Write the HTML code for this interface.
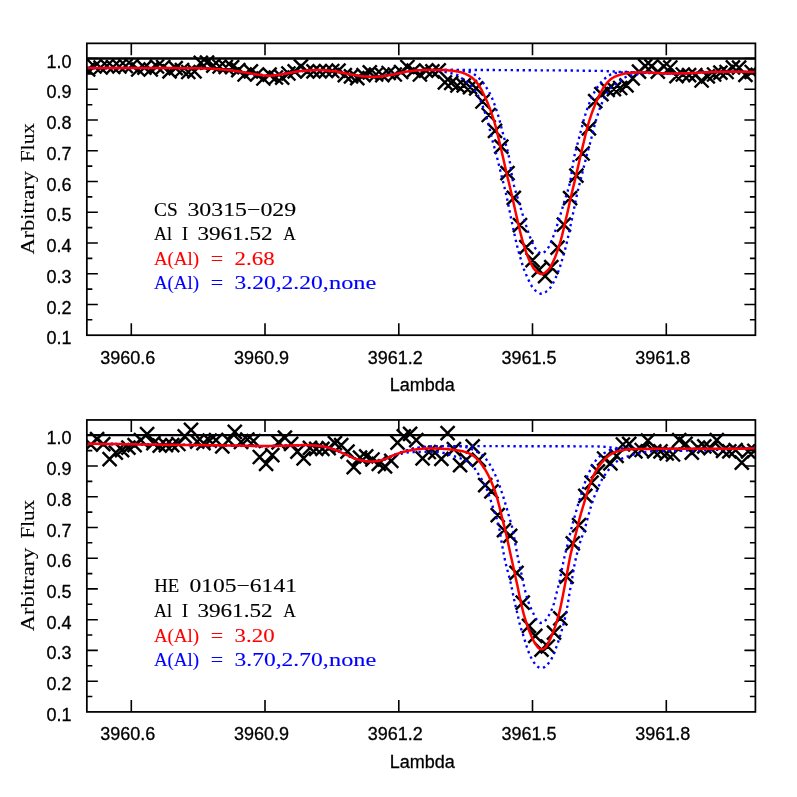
<!DOCTYPE html>
<html><head><meta charset="utf-8"><title>Al I 3961.52 synthesis</title>
<style>
html,body{margin:0;padding:0;background:#fff}
body{width:797px;height:797px;overflow:hidden}
svg{display:block;will-change:transform}
.sans{font-family:"Liberation Sans",sans-serif;font-size:18px;fill:#000;stroke:#000;stroke-width:0.3px}
.serif{font-family:"Liberation Serif",serif;font-size:19.5px;stroke-width:0.12px}
</style></head><body>
<svg width="797" height="797" viewBox="0 0 797 797">
<rect width="797" height="797" fill="#fff"/>
<clipPath id="clip1"><rect x="86.85" y="43.35" width="668.55" height="291.84999999999997"/></clipPath>
<g clip-path="url(#clip1)">
<path d="M86.85,58.5H755.4" stroke="#000" stroke-width="2.3" fill="none"/>
<path d="M81.1,62.5l14,14M81.1,76.5l14,-14M87.4,59.5l14,14M87.4,73.5l14,-14M93.6,60.5l14,14M93.6,74.5l14,-14M99.9,59.0l14,14M99.9,73.0l14,-14M106.1,60.0l14,14M106.1,74.0l14,-14M112.4,59.5l14,14M112.4,73.5l14,-14M118.7,59.0l14,14M118.7,73.0l14,-14M124.9,58.5l14,14M124.9,72.5l14,-14M131.2,62.5l14,14M131.2,76.5l14,-14M137.4,60.6l14,14M137.4,74.6l14,-14M143.7,62.5l14,14M143.7,76.5l14,-14M150.0,59.5l14,14M150.0,73.5l14,-14M156.2,60.0l14,14M156.2,74.0l14,-14M162.5,64.3l14,14M162.5,78.3l14,-14M168.7,61.2l14,14M168.7,75.2l14,-14M175.0,63.0l14,14M175.0,77.0l14,-14M181.3,65.0l14,14M181.3,79.0l14,-14M187.5,64.3l14,14M187.5,78.3l14,-14M193.8,55.9l14,14M193.8,69.9l14,-14M200.0,55.6l14,14M200.0,69.6l14,-14M206.3,58.7l14,14M206.3,72.7l14,-14M212.6,59.5l14,14M212.6,73.5l14,-14M218.8,60.0l14,14M218.8,74.0l14,-14M225.1,60.2l14,14M225.1,74.2l14,-14M231.3,63.1l14,14M231.3,77.1l14,-14M237.6,67.5l14,14M237.6,81.5l14,-14M243.9,64.3l14,14M243.9,78.3l14,-14M250.1,67.5l14,14M250.1,81.5l14,-14M256.4,71.5l14,14M256.4,85.5l14,-14M262.6,67.7l14,14M262.6,81.7l14,-14M268.9,70.5l14,14M268.9,84.5l14,-14M275.2,70.6l14,14M275.2,84.6l14,-14M281.4,66.5l14,14M281.4,80.5l14,-14M287.7,64.3l14,14M287.7,78.3l14,-14M293.9,59.3l14,14M293.9,73.3l14,-14M300.2,64.3l14,14M300.2,78.3l14,-14M306.5,64.3l14,14M306.5,78.3l14,-14M312.7,64.3l14,14M312.7,78.3l14,-14M319.0,64.0l14,14M319.0,78.0l14,-14M325.2,64.0l14,14M325.2,78.0l14,-14M331.5,63.7l14,14M331.5,77.7l14,-14M337.8,68.1l14,14M337.8,82.1l14,-14M344.0,69.4l14,14M344.0,83.4l14,-14M350.3,71.2l14,14M350.3,85.2l14,-14M356.5,68.1l14,14M356.5,82.1l14,-14M362.8,65.3l14,14M362.8,79.3l14,-14M369.1,67.5l14,14M369.1,81.5l14,-14M375.3,68.1l14,14M375.3,82.1l14,-14M381.6,66.0l14,14M381.6,80.0l14,-14M387.8,67.5l14,14M387.8,81.5l14,-14M394.1,65.0l14,14M394.1,79.0l14,-14M400.4,60.0l14,14M400.4,74.0l14,-14M406.6,63.7l14,14M406.6,77.7l14,-14M412.9,67.5l14,14M412.9,81.5l14,-14M419.1,63.7l14,14M419.1,77.7l14,-14M425.4,64.3l14,14M425.4,78.3l14,-14M431.7,63.3l14,14M431.7,77.3l14,-14M437.9,75.4l14,14M437.9,89.4l14,-14M444.2,75.9l14,14M444.2,89.9l14,-14M450.4,78.5l14,14M450.4,92.5l14,-14M456.7,78.4l14,14M456.7,92.4l14,-14M463.0,80.1l14,14M463.0,94.1l14,-14M469.2,81.3l14,14M469.2,95.3l14,-14M475.5,94.5l14,14M475.5,108.5l14,-14M481.7,108.0l14,14M481.7,122.0l14,-14M488.0,123.8l14,14M488.0,137.8l14,-14M494.3,139.6l14,14M494.3,153.6l14,-14M500.5,166.1l14,14M500.5,180.1l14,-14M506.8,190.9l14,14M506.8,204.9l14,-14M513.0,218.2l14,14M513.0,232.2l14,-14M519.3,240.1l14,14M519.3,254.1l14,-14M525.6,253.1l14,14M525.6,267.1l14,-14M531.8,263.2l14,14M531.8,277.2l14,-14M538.1,269.2l14,14M538.1,283.2l14,-14M544.3,260.1l14,14M544.3,274.1l14,-14M550.6,240.6l14,14M550.6,254.6l14,-14M556.9,217.6l14,14M556.9,231.6l14,-14M563.1,191.2l14,14M563.1,205.2l14,-14M569.4,168.6l14,14M569.4,182.6l14,-14M575.6,146.5l14,14M575.6,160.5l14,-14M581.9,121.3l14,14M581.9,135.3l14,-14M588.2,94.2l14,14M588.2,108.2l14,-14M594.4,87.2l14,14M594.4,101.2l14,-14M600.7,82.9l14,14M600.7,96.9l14,-14M606.9,82.2l14,14M606.9,96.2l14,-14M613.2,81.0l14,14M613.2,95.0l14,-14M619.5,78.4l14,14M619.5,92.4l14,-14M625.7,71.4l14,14M625.7,85.4l14,-14M632.0,64.6l14,14M632.0,78.6l14,-14M638.2,59.1l14,14M638.2,73.1l14,-14M644.5,59.3l14,14M644.5,73.3l14,-14M650.8,64.6l14,14M650.8,78.6l14,-14M657.0,59.5l14,14M657.0,73.5l14,-14M663.3,60.5l14,14M663.3,74.5l14,-14M669.5,69.1l14,14M669.5,83.1l14,-14M675.8,67.5l14,14M675.8,81.5l14,-14M682.1,68.1l14,14M682.1,82.1l14,-14M688.3,68.1l14,14M688.3,82.1l14,-14M694.6,73.5l14,14M694.6,87.5l14,-14M700.8,69.4l14,14M700.8,83.4l14,-14M707.1,67.5l14,14M707.1,81.5l14,-14M713.4,65.6l14,14M713.4,79.6l14,-14M719.6,65.0l14,14M719.6,79.0l14,-14M725.9,60.3l14,14M725.9,74.3l14,-14M732.1,60.6l14,14M732.1,74.6l14,-14M738.4,67.9l14,14M738.4,81.9l14,-14M744.7,65.0l14,14M744.7,79.0l14,-14" stroke="#000" stroke-width="2.45" fill="none"/>
<path d="M86.8,68.0 L87.8,68.0 L88.8,68.0 L89.8,68.0 L90.8,68.0 L91.8,68.0 L92.8,68.0 L93.8,68.0 L94.8,68.0 L95.8,68.0 L96.8,68.0 L97.8,68.0 L98.8,68.0 L99.8,68.0 L100.8,68.0 L101.8,68.0 L102.8,68.0 L103.8,68.0 L104.8,68.0 L105.8,68.0 L106.8,68.0 L107.8,68.0 L108.8,68.0 L109.8,68.0 L110.8,68.0 L111.8,68.0 L112.8,68.0 L113.8,68.0 L114.8,68.0 L115.8,68.0 L116.8,68.0 L117.8,68.0 L118.8,68.0 L119.8,68.0 L120.8,68.0 L121.8,68.0 L122.8,68.0 L123.8,68.0 L124.8,68.0 L125.8,68.0 L126.8,68.0 L127.8,68.0 L128.8,68.0 L129.8,68.0 L130.8,68.0 L131.8,68.0 L132.8,68.0 L133.8,68.0 L134.8,68.0 L135.8,68.0 L136.8,68.0 L137.8,68.0 L138.8,68.0 L139.8,68.0 L140.8,68.0 L141.8,68.0 L142.8,68.0 L143.8,68.0 L144.8,68.0 L145.8,68.0 L146.8,68.0 L147.8,68.0 L148.8,68.0 L149.8,68.0 L150.8,68.0 L151.8,68.1 L152.8,68.1 L153.8,68.1 L154.8,68.1 L155.8,68.1 L156.8,68.1 L157.8,68.1 L158.8,68.1 L159.8,68.1 L160.8,68.1 L161.8,68.1 L162.8,68.1 L163.8,68.1 L164.8,68.1 L165.8,68.1 L166.8,68.1 L167.8,68.1 L168.8,68.1 L169.8,68.1 L170.8,68.1 L171.8,68.1 L172.8,68.1 L173.8,68.1 L174.8,68.1 L175.8,68.1 L176.8,68.1 L177.8,68.2 L178.8,68.2 L179.8,68.2 L180.8,68.2 L181.8,68.2 L182.8,68.2 L183.8,68.2 L184.8,68.2 L185.8,68.2 L186.8,68.2 L187.8,68.2 L188.8,68.2 L189.8,68.2 L190.8,68.2 L191.8,68.2 L192.8,68.3 L193.8,68.3 L194.8,68.3 L195.8,68.3 L196.8,68.3 L197.8,68.3 L198.8,68.3 L199.8,68.3 L200.8,68.3 L201.8,68.4 L202.8,68.4 L203.8,68.4 L204.8,68.4 L205.8,68.4 L206.8,68.4 L207.8,68.5 L208.8,68.5 L209.8,68.6 L210.8,68.6 L211.8,68.7 L212.8,68.7 L213.8,68.8 L214.8,68.9 L215.8,68.9 L216.8,69.0 L217.8,69.1 L218.8,69.2 L219.8,69.3 L220.8,69.3 L221.8,69.4 L222.8,69.5 L223.8,69.6 L224.8,69.7 L225.8,69.8 L226.8,69.9 L227.8,70.0 L228.8,70.1 L229.8,70.2 L230.8,70.3 L231.8,70.5 L232.8,70.6 L233.8,70.7 L234.8,70.9 L235.8,71.0 L236.8,71.2 L237.8,71.3 L238.8,71.5 L239.8,71.6 L240.8,71.8 L241.8,71.9 L242.8,72.1 L243.8,72.2 L244.8,72.4 L245.8,72.5 L246.8,72.7 L247.8,72.9 L248.8,73.1 L249.8,73.3 L250.8,73.5 L251.8,73.7 L252.8,73.8 L253.8,74.0 L254.8,74.2 L255.8,74.3 L256.9,74.5 L257.9,74.6 L258.9,74.7 L259.9,74.9 L260.9,75.0 L261.9,75.1 L262.9,75.3 L263.9,75.4 L264.9,75.5 L265.9,75.6 L266.9,75.6 L267.9,75.7 L268.9,75.7 L269.9,75.7 L270.9,75.7 L271.9,75.6 L272.9,75.5 L273.9,75.4 L274.9,75.3 L275.9,75.2 L276.9,75.0 L277.9,74.9 L278.9,74.7 L279.9,74.5 L280.9,74.4 L281.9,74.2 L282.9,74.0 L283.9,73.9 L284.9,73.7 L285.9,73.6 L286.9,73.4 L287.9,73.2 L288.9,73.1 L289.9,72.9 L290.9,72.7 L291.9,72.5 L292.9,72.3 L293.9,72.1 L294.9,72.0 L295.9,71.8 L296.9,71.6 L297.9,71.5 L298.9,71.3 L299.9,71.2 L300.9,71.1 L301.9,71.0 L302.9,70.9 L303.9,70.8 L304.9,70.8 L305.9,70.7 L306.9,70.6 L307.9,70.5 L308.9,70.4 L309.9,70.4 L310.9,70.3 L311.9,70.2 L312.9,70.2 L313.9,70.2 L314.9,70.1 L315.9,70.1 L316.9,70.1 L317.9,70.1 L318.9,70.1 L319.9,70.1 L320.9,70.2 L321.9,70.2 L322.9,70.3 L323.9,70.3 L324.9,70.4 L325.9,70.5 L326.9,70.6 L327.9,70.6 L328.9,70.7 L329.9,70.8 L330.9,70.9 L331.9,71.0 L332.9,71.1 L333.9,71.2 L334.9,71.3 L335.9,71.5 L336.9,71.6 L337.9,71.8 L338.9,72.0 L339.9,72.2 L340.9,72.4 L341.9,72.6 L342.9,72.9 L343.9,73.1 L344.9,73.3 L345.9,73.5 L346.9,73.7 L347.9,73.9 L348.9,74.1 L349.9,74.2 L350.9,74.4 L351.9,74.6 L352.9,74.8 L353.9,75.0 L354.9,75.1 L355.9,75.3 L356.9,75.5 L357.9,75.6 L358.9,75.8 L359.9,75.9 L360.9,76.1 L361.9,76.2 L362.9,76.3 L363.9,76.4 L364.9,76.5 L365.9,76.6 L366.9,76.6 L367.9,76.7 L368.9,76.8 L369.9,76.8 L370.9,76.8 L371.9,76.9 L372.9,76.9 L373.9,76.9 L374.9,76.9 L375.9,76.8 L376.9,76.8 L377.9,76.7 L378.9,76.6 L379.9,76.5 L380.9,76.4 L381.9,76.3 L382.9,76.2 L383.9,76.0 L384.9,75.9 L385.9,75.7 L386.9,75.6 L387.9,75.4 L388.9,75.3 L389.9,75.1 L390.9,75.0 L391.9,74.8 L392.9,74.6 L393.9,74.4 L394.9,74.2 L395.9,73.9 L396.9,73.7 L397.9,73.4 L398.9,73.2 L399.9,73.0 L400.9,72.7 L401.9,72.5 L402.9,72.3 L403.9,72.1 L404.9,71.9 L405.9,71.8 L406.9,71.6 L407.9,71.5 L408.9,71.3 L409.9,71.2 L410.9,71.0 L411.9,70.9 L412.9,70.8 L413.9,70.7 L414.9,70.6 L415.9,70.5 L416.9,70.4 L417.9,70.3 L418.9,70.3 L419.9,70.2 L420.9,70.2 L421.9,70.1 L422.9,70.1 L423.9,70.0 L424.9,70.0 L425.9,69.9 L426.9,69.9 L427.9,69.9 L428.9,69.9 L429.9,69.9 L430.9,69.9 L431.9,69.9 L432.9,69.9 L433.9,69.9 L434.9,69.9 L435.9,69.9 L436.9,69.9 L437.9,70.0 L438.9,70.0 L439.9,70.0 L440.9,70.0 L441.9,70.0 L442.9,70.0 L443.9,70.0 L444.9,70.0 L445.9,70.0 L446.9,70.0 L447.9,70.0 L448.9,70.0 L449.9,70.0 L450.9,70.0 L451.9,70.0 L452.9,70.0 L453.9,70.0 L454.9,70.0 L455.9,70.0 L456.9,70.0 L457.9,70.0 L458.9,70.0 L459.9,70.0 L460.9,70.0 L461.9,70.0 L462.9,70.0 L463.9,70.0 L464.9,70.0 L465.9,70.0 L466.9,70.0 L467.9,70.0 L468.9,70.0 L469.9,70.0 L470.9,70.0 L471.9,70.0 L472.9,70.0 L473.9,70.0 L474.9,70.0 L475.9,70.0 L476.9,70.0 L477.9,70.0 L478.9,70.0 L479.9,70.0 L480.9,70.0 L481.9,70.0 L482.9,70.0 L483.9,70.0 L484.9,70.0 L485.9,70.0 L486.9,70.0 L487.9,70.0 L488.9,70.0 L489.9,70.0 L490.9,70.0 L491.9,70.0 L492.9,70.0 L493.9,70.0 L494.9,70.1 L495.9,70.1 L496.9,70.1 L497.9,70.1 L498.9,70.1 L499.9,70.1 L500.9,70.1 L501.9,70.1 L502.9,70.1 L503.9,70.1 L504.9,70.1 L505.9,70.1 L506.9,70.1 L507.9,70.1 L508.9,70.1 L509.9,70.1 L510.9,70.1 L511.9,70.1 L512.9,70.1 L513.9,70.1 L514.9,70.1 L515.9,70.2 L516.9,70.2 L517.9,70.2 L518.9,70.2 L519.9,70.2 L520.9,70.2 L521.9,70.2 L522.9,70.2 L523.9,70.2 L524.9,70.2 L525.9,70.2 L526.9,70.2 L527.9,70.2 L528.9,70.2 L529.9,70.2 L530.9,70.2 L531.9,70.3 L532.9,70.3 L533.9,70.3 L534.9,70.3 L535.9,70.3 L536.9,70.3 L537.9,70.3 L538.9,70.3 L539.9,70.3 L540.9,70.3 L541.9,70.3 L542.9,70.3 L543.9,70.3 L544.9,70.3 L545.9,70.3 L546.9,70.3 L547.9,70.3 L548.9,70.4 L549.9,70.4 L550.9,70.4 L551.9,70.4 L552.9,70.4 L553.9,70.4 L554.9,70.4 L555.9,70.4 L556.9,70.4 L557.9,70.4 L558.9,70.4 L559.9,70.4 L560.9,70.4 L561.9,70.4 L562.9,70.5 L563.9,70.5 L564.9,70.5 L565.9,70.5 L566.9,70.5 L567.9,70.5 L568.9,70.5 L569.9,70.5 L570.9,70.5 L571.9,70.5 L572.9,70.5 L573.9,70.5 L574.9,70.6 L575.9,70.6 L576.9,70.6 L577.9,70.6 L578.9,70.6 L579.9,70.6 L580.9,70.6 L581.9,70.6 L582.9,70.6 L583.9,70.7 L584.9,70.7 L585.9,70.7 L586.9,70.7 L587.9,70.7 L588.9,70.7 L589.9,70.7 L590.9,70.8 L591.9,70.8 L592.9,70.8 L593.9,70.8 L594.9,70.8 L595.9,70.8 L596.9,70.8 L597.9,70.9 L598.9,70.9 L599.9,70.9 L600.9,70.9 L601.9,70.9 L602.9,71.0 L603.9,71.0 L604.9,71.0 L605.9,71.1 L606.9,71.1 L607.9,71.2 L608.9,71.2 L609.9,71.3 L610.9,71.3 L611.9,71.4 L612.9,71.4 L613.9,71.5 L614.9,71.6 L615.9,71.6 L616.9,71.7 L617.9,71.7 L618.9,71.8 L619.9,71.8 L620.9,71.9 L621.9,71.9 L622.9,71.9 L623.9,72.0 L624.9,72.0 L625.9,72.0 L626.9,72.0 L627.9,72.1 L628.9,72.1 L629.9,72.1 L630.9,72.1 L631.9,72.1 L632.9,72.2 L633.9,72.2 L634.9,72.2 L635.9,72.2 L636.9,72.2 L637.9,72.3 L638.9,72.3 L639.9,72.3 L640.9,72.3 L641.9,72.3 L642.9,72.4 L643.9,72.4 L644.9,72.4 L645.9,72.4 L646.9,72.5 L647.9,72.5 L648.9,72.5 L649.9,72.6 L650.9,72.6 L651.9,72.7 L652.9,72.8 L653.9,72.8 L654.9,72.9 L655.9,73.0 L656.9,73.0 L657.9,73.1 L658.9,73.1 L659.9,73.2 L660.9,73.2 L661.9,73.3 L662.9,73.3 L663.9,73.4 L664.9,73.4 L665.9,73.4 L666.9,73.5 L667.9,73.5 L668.9,73.5 L669.9,73.5 L670.9,73.5 L671.9,73.5 L672.9,73.5 L673.9,73.5 L674.9,73.5 L675.9,73.5 L676.9,73.4 L677.9,73.4 L678.9,73.4 L679.9,73.4 L680.9,73.4 L681.9,73.3 L682.9,73.3 L683.9,73.3 L684.9,73.3 L685.9,73.2 L686.9,73.2 L687.9,73.2 L688.9,73.1 L689.9,73.1 L690.9,73.1 L691.9,73.1 L692.9,73.0 L693.9,73.0 L694.9,72.9 L695.9,72.9 L696.9,72.8 L697.9,72.8 L698.9,72.7 L699.9,72.6 L700.9,72.6 L701.9,72.5 L702.9,72.5 L703.9,72.4 L704.9,72.3 L705.9,72.3 L706.9,72.2 L707.9,72.2 L708.9,72.2 L709.9,72.1 L710.9,72.1 L711.9,72.1 L712.9,72.0 L713.9,72.0 L714.9,72.0 L715.9,71.9 L716.9,71.9 L717.9,71.9 L718.9,71.9 L719.9,71.8 L720.9,71.8 L721.9,71.8 L722.9,71.8 L723.9,71.8 L724.9,71.7 L725.9,71.7 L726.9,71.7 L727.9,71.7 L728.9,71.7 L729.9,71.7 L730.9,71.7 L731.9,71.7 L732.9,71.7 L733.9,71.7 L734.9,71.7 L735.9,71.7 L736.9,71.7 L737.9,71.7 L738.9,71.7 L739.9,71.7 L740.9,71.8 L741.9,71.8 L742.9,71.8 L743.9,71.8 L744.9,71.8 L745.9,71.8 L746.9,71.9 L747.9,71.9 L748.9,71.9 L749.9,71.9 L750.9,72.0 L751.9,72.0 L752.9,72.0 L753.9,72.0 L754.9,72.1" stroke="#00f" stroke-width="2.35" stroke-dasharray="2.35 3.65" fill="none"/>
<path d="M86.8,68.0 L87.8,68.0 L88.8,68.0 L89.8,68.0 L90.8,68.0 L91.8,68.0 L92.8,68.0 L93.8,68.0 L94.8,68.0 L95.8,68.0 L96.8,68.0 L97.8,68.0 L98.8,68.0 L99.8,68.0 L100.8,68.0 L101.8,68.0 L102.8,68.0 L103.8,68.0 L104.8,68.0 L105.8,68.0 L106.8,68.0 L107.8,68.0 L108.8,68.0 L109.8,68.0 L110.8,68.0 L111.8,68.0 L112.8,68.0 L113.8,68.0 L114.8,68.0 L115.8,68.0 L116.8,68.0 L117.8,68.0 L118.8,68.0 L119.8,68.0 L120.8,68.0 L121.8,68.0 L122.8,68.0 L123.8,68.0 L124.8,68.0 L125.8,68.0 L126.8,68.0 L127.8,68.0 L128.8,68.0 L129.8,68.0 L130.8,68.0 L131.8,68.0 L132.8,68.0 L133.8,68.0 L134.8,68.0 L135.8,68.0 L136.8,68.0 L137.8,68.0 L138.8,68.0 L139.8,68.0 L140.8,68.0 L141.8,68.0 L142.8,68.0 L143.8,68.0 L144.8,68.0 L145.8,68.0 L146.8,68.0 L147.8,68.0 L148.8,68.0 L149.8,68.0 L150.8,68.0 L151.8,68.1 L152.8,68.1 L153.8,68.1 L154.8,68.1 L155.8,68.1 L156.8,68.1 L157.8,68.1 L158.8,68.1 L159.8,68.1 L160.8,68.1 L161.8,68.1 L162.8,68.1 L163.8,68.1 L164.8,68.1 L165.8,68.1 L166.8,68.1 L167.8,68.1 L168.8,68.1 L169.8,68.1 L170.8,68.1 L171.8,68.1 L172.8,68.1 L173.8,68.1 L174.8,68.1 L175.8,68.1 L176.8,68.1 L177.8,68.2 L178.8,68.2 L179.8,68.2 L180.8,68.2 L181.8,68.2 L182.8,68.2 L183.8,68.2 L184.8,68.2 L185.8,68.2 L186.8,68.2 L187.8,68.2 L188.8,68.2 L189.8,68.2 L190.8,68.2 L191.8,68.2 L192.8,68.3 L193.8,68.3 L194.8,68.3 L195.8,68.3 L196.8,68.3 L197.8,68.3 L198.8,68.3 L199.8,68.3 L200.8,68.3 L201.8,68.4 L202.8,68.4 L203.8,68.4 L204.8,68.4 L205.8,68.4 L206.8,68.4 L207.8,68.5 L208.8,68.5 L209.8,68.6 L210.8,68.6 L211.8,68.7 L212.8,68.7 L213.8,68.8 L214.8,68.9 L215.8,68.9 L216.8,69.0 L217.8,69.1 L218.8,69.2 L219.8,69.3 L220.8,69.3 L221.8,69.4 L222.8,69.5 L223.8,69.6 L224.8,69.7 L225.8,69.8 L226.8,69.9 L227.8,70.0 L228.8,70.1 L229.8,70.2 L230.8,70.3 L231.8,70.5 L232.8,70.6 L233.8,70.7 L234.8,70.9 L235.8,71.0 L236.8,71.2 L237.8,71.3 L238.8,71.5 L239.8,71.6 L240.8,71.8 L241.8,71.9 L242.8,72.1 L243.8,72.2 L244.8,72.4 L245.8,72.5 L246.8,72.7 L247.8,72.9 L248.8,73.1 L249.8,73.3 L250.8,73.5 L251.8,73.7 L252.8,73.8 L253.8,74.0 L254.8,74.2 L255.8,74.3 L256.9,74.5 L257.9,74.6 L258.9,74.7 L259.9,74.9 L260.9,75.0 L261.9,75.1 L262.9,75.3 L263.9,75.4 L264.9,75.5 L265.9,75.6 L266.9,75.6 L267.9,75.7 L268.9,75.7 L269.9,75.7 L270.9,75.7 L271.9,75.6 L272.9,75.5 L273.9,75.4 L274.9,75.3 L275.9,75.2 L276.9,75.0 L277.9,74.9 L278.9,74.7 L279.9,74.5 L280.9,74.4 L281.9,74.2 L282.9,74.0 L283.9,73.9 L284.9,73.7 L285.9,73.6 L286.9,73.4 L287.9,73.2 L288.9,73.1 L289.9,72.9 L290.9,72.7 L291.9,72.5 L292.9,72.3 L293.9,72.1 L294.9,72.0 L295.9,71.8 L296.9,71.6 L297.9,71.5 L298.9,71.3 L299.9,71.2 L300.9,71.1 L301.9,71.0 L302.9,70.9 L303.9,70.8 L304.9,70.8 L305.9,70.7 L306.9,70.6 L307.9,70.5 L308.9,70.4 L309.9,70.4 L310.9,70.3 L311.9,70.2 L312.9,70.2 L313.9,70.2 L314.9,70.1 L315.9,70.1 L316.9,70.1 L317.9,70.1 L318.9,70.1 L319.9,70.1 L320.9,70.2 L321.9,70.2 L322.9,70.3 L323.9,70.3 L324.9,70.4 L325.9,70.5 L326.9,70.6 L327.9,70.6 L328.9,70.7 L329.9,70.8 L330.9,70.9 L331.9,71.0 L332.9,71.1 L333.9,71.2 L334.9,71.3 L335.9,71.5 L336.9,71.6 L337.9,71.8 L338.9,72.0 L339.9,72.2 L340.9,72.4 L341.9,72.6 L342.9,72.9 L343.9,73.1 L344.9,73.3 L345.9,73.5 L346.9,73.7 L347.9,73.9 L348.9,74.1 L349.9,74.2 L350.9,74.4 L351.9,74.6 L352.9,74.8 L353.9,75.0 L354.9,75.1 L355.9,75.3 L356.9,75.5 L357.9,75.6 L358.9,75.8 L359.9,75.9 L360.9,76.1 L361.9,76.2 L362.9,76.3 L363.9,76.4 L364.9,76.5 L365.9,76.6 L366.9,76.6 L367.9,76.7 L368.9,76.8 L369.9,76.8 L370.9,76.8 L371.9,76.9 L372.9,76.9 L373.9,76.9 L374.9,76.9 L375.9,76.8 L376.9,76.8 L377.9,76.7 L378.9,76.6 L379.9,76.5 L380.9,76.4 L381.9,76.3 L382.9,76.2 L383.9,76.0 L384.9,75.9 L385.9,75.7 L386.9,75.6 L387.9,75.4 L388.9,75.3 L389.9,75.1 L390.9,75.0 L391.9,74.8 L392.9,74.6 L393.9,74.4 L394.9,74.2 L395.9,73.9 L396.9,73.7 L397.9,73.4 L398.9,73.2 L399.9,73.0 L400.9,72.7 L401.9,72.5 L402.9,72.3 L403.9,72.1 L404.9,71.9 L405.9,71.8 L406.9,71.6 L407.9,71.5 L408.9,71.3 L409.9,71.2 L410.9,71.0 L411.9,70.9 L412.9,70.8 L413.9,70.7 L414.9,70.6 L415.9,70.5 L416.9,70.4 L417.9,70.3 L418.9,70.3 L419.9,70.2 L420.9,70.2 L421.9,70.1 L422.9,70.1 L423.9,70.0 L424.9,70.0 L425.9,69.9 L426.9,69.9 L427.9,70.0 L428.9,70.0 L429.9,70.1 L430.9,70.1 L431.9,70.2 L432.9,70.3 L433.9,70.4 L434.9,70.5 L435.9,70.6 L436.9,70.7 L437.9,70.8 L438.9,70.9 L439.9,71.1 L440.9,71.2 L441.9,71.4 L442.9,71.6 L443.9,71.8 L444.9,71.9 L445.9,72.1 L446.9,72.3 L447.9,72.5 L448.9,72.7 L449.9,72.9 L450.9,73.1 L451.9,73.3 L452.9,73.6 L453.9,73.9 L454.9,74.1 L455.9,74.5 L456.9,74.9 L457.9,75.4 L458.9,76.0 L459.9,76.7 L460.9,77.5 L461.9,78.3 L462.9,79.1 L463.9,79.9 L464.9,80.7 L465.9,81.5 L466.9,82.2 L467.9,83.0 L468.9,83.7 L469.9,84.6 L470.9,85.5 L471.9,86.4 L472.9,87.5 L473.9,88.8 L474.9,90.2 L475.9,91.8 L476.9,93.5 L477.9,95.3 L478.9,97.2 L479.9,99.4 L480.9,101.6 L481.9,104.1 L482.9,106.6 L483.9,109.4 L484.9,112.4 L485.9,115.6 L486.9,118.9 L487.9,122.4 L488.9,126.0 L489.9,130.0 L490.9,134.2 L491.9,138.3 L492.9,142.2 L493.9,145.8 L494.9,149.4 L495.9,153.0 L496.9,156.8 L497.9,160.9 L498.9,165.0 L499.9,169.1 L500.9,173.1 L501.9,177.1 L502.9,181.0 L503.9,185.0 L504.9,189.1 L505.9,193.3 L506.9,197.8 L507.9,202.6 L508.9,207.5 L509.9,212.5 L510.9,217.5 L511.9,222.3 L512.9,227.0 L513.9,231.7 L514.9,236.3 L515.9,240.8 L516.9,245.1 L517.9,249.0 L518.9,252.7 L519.9,256.1 L520.9,259.5 L521.9,262.9 L522.9,266.2 L523.9,269.1 L524.9,271.7 L525.9,274.1 L526.9,276.4 L527.9,278.7 L528.9,280.8 L529.9,282.8 L530.9,284.8 L531.9,286.4 L532.9,287.8 L533.9,289.1 L534.9,290.1 L535.9,290.9 L536.9,291.6 L537.9,292.3 L538.9,292.9 L539.9,293.4 L540.9,293.7 L541.9,293.7 L542.9,293.5 L543.9,293.1 L544.9,292.5 L545.9,291.9 L546.9,291.1 L547.9,290.4 L548.9,289.4 L549.9,288.2 L550.9,286.9 L551.9,285.3 L552.9,283.5 L553.9,281.5 L554.9,279.4 L555.9,277.2 L556.9,274.9 L557.9,272.5 L558.9,270.0 L559.9,267.2 L560.9,264.0 L561.9,260.6 L562.9,257.2 L563.9,253.8 L564.9,250.3 L565.9,246.4 L566.9,242.2 L567.9,237.8 L568.9,233.2 L569.9,228.6 L570.9,223.9 L571.9,219.2 L572.9,214.2 L573.9,209.3 L574.9,204.3 L575.9,199.5 L576.9,194.9 L577.9,190.6 L578.9,186.5 L579.9,182.5 L580.9,178.6 L581.9,174.7 L582.9,170.7 L583.9,166.6 L584.9,162.5 L585.9,158.5 L586.9,154.6 L587.9,150.9 L588.9,147.4 L589.9,143.8 L590.9,140.0 L591.9,136.0 L592.9,131.8 L593.9,127.8 L594.9,124.1 L595.9,120.6 L596.9,117.3 L597.9,114.1 L598.9,111.0 L599.9,108.2 L600.9,105.6 L601.9,103.2 L602.9,100.9 L603.9,98.8 L604.9,96.8 L605.9,95.0 L606.9,93.3 L607.9,91.8 L608.9,90.4 L609.9,89.1 L610.9,88.0 L611.9,87.1 L612.9,86.2 L613.9,85.4 L614.9,84.7 L615.9,84.0 L616.9,83.3 L617.9,82.6 L618.9,81.9 L619.9,81.1 L620.9,80.3 L621.9,79.6 L622.9,78.8 L623.9,78.1 L624.9,77.5 L625.9,77.0 L626.9,76.6 L627.9,76.3 L628.9,76.0 L629.9,75.7 L630.9,75.5 L631.9,75.3 L632.9,75.1 L633.9,74.9 L634.9,74.7 L635.9,74.6 L636.9,74.4 L637.9,74.2 L638.9,74.1 L639.9,73.9 L640.9,73.8 L641.9,73.6 L642.9,73.5 L643.9,73.4 L644.9,73.3 L645.9,73.2 L646.9,73.1 L647.9,73.1 L648.9,73.0 L649.9,73.0 L650.9,73.0 L651.9,72.9 L652.9,72.9 L653.9,73.0 L654.9,73.0 L655.9,73.0 L656.9,73.0 L657.9,73.1 L658.9,73.1 L659.9,73.2 L660.9,73.2 L661.9,73.3 L662.9,73.3 L663.9,73.4 L664.9,73.4 L665.9,73.4 L666.9,73.5 L667.9,73.5 L668.9,73.5 L669.9,73.5 L670.9,73.5 L671.9,73.5 L672.9,73.5 L673.9,73.5 L674.9,73.5 L675.9,73.5 L676.9,73.4 L677.9,73.4 L678.9,73.4 L679.9,73.4 L680.9,73.4 L681.9,73.3 L682.9,73.3 L683.9,73.3 L684.9,73.3 L685.9,73.2 L686.9,73.2 L687.9,73.2 L688.9,73.1 L689.9,73.1 L690.9,73.1 L691.9,73.1 L692.9,73.0 L693.9,73.0 L694.9,72.9 L695.9,72.9 L696.9,72.8 L697.9,72.8 L698.9,72.7 L699.9,72.6 L700.9,72.6 L701.9,72.5 L702.9,72.5 L703.9,72.4 L704.9,72.3 L705.9,72.3 L706.9,72.2 L707.9,72.2 L708.9,72.2 L709.9,72.1 L710.9,72.1 L711.9,72.1 L712.9,72.0 L713.9,72.0 L714.9,72.0 L715.9,71.9 L716.9,71.9 L717.9,71.9 L718.9,71.9 L719.9,71.8 L720.9,71.8 L721.9,71.8 L722.9,71.8 L723.9,71.8 L724.9,71.7 L725.9,71.7 L726.9,71.7 L727.9,71.7 L728.9,71.7 L729.9,71.7 L730.9,71.7 L731.9,71.7 L732.9,71.7 L733.9,71.7 L734.9,71.7 L735.9,71.7 L736.9,71.7 L737.9,71.7 L738.9,71.7 L739.9,71.7 L740.9,71.8 L741.9,71.8 L742.9,71.8 L743.9,71.8 L744.9,71.8 L745.9,71.8 L746.9,71.9 L747.9,71.9 L748.9,71.9 L749.9,71.9 L750.9,72.0 L751.9,72.0 L752.9,72.0 L753.9,72.0 L754.9,72.1" stroke="#00f" stroke-width="2.35" stroke-dasharray="2.35 3.65" fill="none"/>
<path d="M86.8,68.0 L87.8,68.0 L88.8,68.0 L89.8,68.0 L90.8,68.0 L91.8,68.0 L92.8,68.0 L93.8,68.0 L94.8,68.0 L95.8,68.0 L96.8,68.0 L97.8,68.0 L98.8,68.0 L99.8,68.0 L100.8,68.0 L101.8,68.0 L102.8,68.0 L103.8,68.0 L104.8,68.0 L105.8,68.0 L106.8,68.0 L107.8,68.0 L108.8,68.0 L109.8,68.0 L110.8,68.0 L111.8,68.0 L112.8,68.0 L113.8,68.0 L114.8,68.0 L115.8,68.0 L116.8,68.0 L117.8,68.0 L118.8,68.0 L119.8,68.0 L120.8,68.0 L121.8,68.0 L122.8,68.0 L123.8,68.0 L124.8,68.0 L125.8,68.0 L126.8,68.0 L127.8,68.0 L128.8,68.0 L129.8,68.0 L130.8,68.0 L131.8,68.0 L132.8,68.0 L133.8,68.0 L134.8,68.0 L135.8,68.0 L136.8,68.0 L137.8,68.0 L138.8,68.0 L139.8,68.0 L140.8,68.0 L141.8,68.0 L142.8,68.0 L143.8,68.0 L144.8,68.0 L145.8,68.0 L146.8,68.0 L147.8,68.0 L148.8,68.0 L149.8,68.0 L150.8,68.0 L151.8,68.1 L152.8,68.1 L153.8,68.1 L154.8,68.1 L155.8,68.1 L156.8,68.1 L157.8,68.1 L158.8,68.1 L159.8,68.1 L160.8,68.1 L161.8,68.1 L162.8,68.1 L163.8,68.1 L164.8,68.1 L165.8,68.1 L166.8,68.1 L167.8,68.1 L168.8,68.1 L169.8,68.1 L170.8,68.1 L171.8,68.1 L172.8,68.1 L173.8,68.1 L174.8,68.1 L175.8,68.1 L176.8,68.1 L177.8,68.2 L178.8,68.2 L179.8,68.2 L180.8,68.2 L181.8,68.2 L182.8,68.2 L183.8,68.2 L184.8,68.2 L185.8,68.2 L186.8,68.2 L187.8,68.2 L188.8,68.2 L189.8,68.2 L190.8,68.2 L191.8,68.2 L192.8,68.3 L193.8,68.3 L194.8,68.3 L195.8,68.3 L196.8,68.3 L197.8,68.3 L198.8,68.3 L199.8,68.3 L200.8,68.3 L201.8,68.4 L202.8,68.4 L203.8,68.4 L204.8,68.4 L205.8,68.4 L206.8,68.4 L207.8,68.5 L208.8,68.5 L209.8,68.6 L210.8,68.6 L211.8,68.7 L212.8,68.7 L213.8,68.8 L214.8,68.9 L215.8,68.9 L216.8,69.0 L217.8,69.1 L218.8,69.2 L219.8,69.3 L220.8,69.3 L221.8,69.4 L222.8,69.5 L223.8,69.6 L224.8,69.7 L225.8,69.8 L226.8,69.9 L227.8,70.0 L228.8,70.1 L229.8,70.2 L230.8,70.3 L231.8,70.5 L232.8,70.6 L233.8,70.7 L234.8,70.9 L235.8,71.0 L236.8,71.2 L237.8,71.3 L238.8,71.5 L239.8,71.6 L240.8,71.8 L241.8,71.9 L242.8,72.1 L243.8,72.2 L244.8,72.4 L245.8,72.5 L246.8,72.7 L247.8,72.9 L248.8,73.1 L249.8,73.3 L250.8,73.5 L251.8,73.7 L252.8,73.8 L253.8,74.0 L254.8,74.2 L255.8,74.3 L256.9,74.5 L257.9,74.6 L258.9,74.7 L259.9,74.9 L260.9,75.0 L261.9,75.1 L262.9,75.3 L263.9,75.4 L264.9,75.5 L265.9,75.6 L266.9,75.6 L267.9,75.7 L268.9,75.7 L269.9,75.7 L270.9,75.7 L271.9,75.6 L272.9,75.5 L273.9,75.4 L274.9,75.3 L275.9,75.2 L276.9,75.0 L277.9,74.9 L278.9,74.7 L279.9,74.5 L280.9,74.4 L281.9,74.2 L282.9,74.0 L283.9,73.9 L284.9,73.7 L285.9,73.6 L286.9,73.4 L287.9,73.2 L288.9,73.1 L289.9,72.9 L290.9,72.7 L291.9,72.5 L292.9,72.3 L293.9,72.1 L294.9,72.0 L295.9,71.8 L296.9,71.6 L297.9,71.5 L298.9,71.3 L299.9,71.2 L300.9,71.1 L301.9,71.0 L302.9,70.9 L303.9,70.8 L304.9,70.8 L305.9,70.7 L306.9,70.6 L307.9,70.5 L308.9,70.4 L309.9,70.4 L310.9,70.3 L311.9,70.2 L312.9,70.2 L313.9,70.2 L314.9,70.1 L315.9,70.1 L316.9,70.1 L317.9,70.1 L318.9,70.1 L319.9,70.1 L320.9,70.2 L321.9,70.2 L322.9,70.3 L323.9,70.3 L324.9,70.4 L325.9,70.5 L326.9,70.6 L327.9,70.6 L328.9,70.7 L329.9,70.8 L330.9,70.9 L331.9,71.0 L332.9,71.1 L333.9,71.2 L334.9,71.3 L335.9,71.5 L336.9,71.6 L337.9,71.8 L338.9,72.0 L339.9,72.2 L340.9,72.4 L341.9,72.6 L342.9,72.9 L343.9,73.1 L344.9,73.3 L345.9,73.5 L346.9,73.7 L347.9,73.9 L348.9,74.1 L349.9,74.2 L350.9,74.4 L351.9,74.6 L352.9,74.8 L353.9,75.0 L354.9,75.1 L355.9,75.3 L356.9,75.5 L357.9,75.6 L358.9,75.8 L359.9,75.9 L360.9,76.1 L361.9,76.2 L362.9,76.3 L363.9,76.4 L364.9,76.5 L365.9,76.6 L366.9,76.6 L367.9,76.7 L368.9,76.8 L369.9,76.8 L370.9,76.8 L371.9,76.9 L372.9,76.9 L373.9,76.9 L374.9,76.9 L375.9,76.8 L376.9,76.8 L377.9,76.7 L378.9,76.6 L379.9,76.5 L380.9,76.4 L381.9,76.3 L382.9,76.2 L383.9,76.0 L384.9,75.9 L385.9,75.7 L386.9,75.6 L387.9,75.4 L388.9,75.3 L389.9,75.1 L390.9,75.0 L391.9,74.8 L392.9,74.6 L393.9,74.4 L394.9,74.2 L395.9,73.9 L396.9,73.7 L397.9,73.4 L398.9,73.2 L399.9,73.0 L400.9,72.7 L401.9,72.5 L402.9,72.3 L403.9,72.1 L404.9,71.9 L405.9,71.8 L406.9,71.6 L407.9,71.5 L408.9,71.3 L409.9,71.2 L410.9,71.0 L411.9,70.9 L412.9,70.8 L413.9,70.7 L414.9,70.6 L415.9,70.5 L416.9,70.4 L417.9,70.3 L418.9,70.3 L419.9,70.2 L420.9,70.2 L421.9,70.1 L422.9,70.1 L423.9,70.0 L424.9,70.0 L425.9,69.9 L426.9,69.9 L427.9,69.9 L428.9,69.9 L429.9,69.9 L430.9,69.9 L431.9,69.9 L432.9,69.9 L433.9,69.9 L434.9,69.9 L435.9,69.9 L436.9,69.9 L437.9,70.0 L438.9,70.0 L439.9,70.0 L440.9,70.0 L441.9,70.0 L442.9,70.0 L443.9,70.0 L444.9,70.0 L445.9,70.0 L446.9,70.0 L447.9,70.0 L448.9,70.0 L449.9,70.0 L450.9,70.0 L451.9,70.0 L452.9,70.0 L453.9,70.0 L454.9,70.1 L455.9,70.1 L456.9,70.2 L457.9,70.2 L458.9,70.3 L459.9,70.4 L460.9,70.4 L461.9,70.5 L462.9,70.6 L463.9,70.8 L464.9,70.9 L465.9,71.1 L466.9,71.3 L467.9,71.6 L468.9,71.8 L469.9,72.1 L470.9,72.4 L471.9,72.9 L472.9,73.4 L473.9,74.1 L474.9,74.8 L475.9,75.6 L476.9,76.4 L477.9,77.2 L478.9,78.1 L479.9,79.1 L480.9,80.1 L481.9,81.2 L482.9,82.5 L483.9,83.8 L484.9,85.3 L485.9,86.8 L486.9,88.3 L487.9,90.0 L488.9,91.7 L489.9,93.6 L490.9,95.6 L491.9,97.8 L492.9,100.2 L493.9,102.9 L494.9,105.6 L495.9,108.4 L496.9,111.4 L497.9,114.5 L498.9,117.8 L499.9,121.6 L500.9,125.6 L501.9,129.5 L502.9,133.2 L503.9,137.0 L504.9,140.8 L505.9,144.6 L506.9,148.3 L507.9,152.1 L508.9,156.6 L509.9,162.3 L510.9,168.9 L511.9,175.5 L512.9,181.0 L513.9,185.3 L514.9,189.0 L515.9,192.4 L516.9,195.6 L517.9,198.7 L518.9,201.9 L519.9,205.2 L520.9,208.6 L521.9,212.0 L522.9,215.3 L523.9,218.6 L524.9,221.9 L525.9,225.0 L526.9,228.0 L527.9,231.1 L528.9,234.0 L529.9,236.8 L530.9,239.2 L531.9,241.6 L532.9,243.9 L533.9,246.0 L534.9,247.7 L535.9,249.1 L536.9,250.2 L537.9,251.3 L538.9,252.3 L539.9,253.0 L540.9,253.4 L541.9,253.5 L542.9,253.2 L543.9,252.5 L544.9,251.6 L545.9,250.6 L546.9,249.5 L547.9,248.2 L548.9,246.6 L549.9,244.6 L550.9,242.4 L551.9,240.0 L552.9,237.6 L553.9,234.9 L554.9,232.0 L555.9,229.0 L556.9,226.0 L557.9,222.9 L558.9,219.7 L559.9,216.4 L560.9,213.1 L561.9,209.8 L562.9,206.4 L563.9,203.0 L564.9,199.8 L565.9,196.7 L566.9,193.6 L567.9,190.3 L568.9,186.7 L569.9,182.6 L570.9,177.6 L571.9,171.2 L572.9,164.5 L573.9,158.4 L574.9,153.7 L575.9,149.7 L576.9,146.0 L577.9,142.3 L578.9,138.5 L579.9,134.8 L580.9,131.0 L581.9,127.2 L582.9,123.2 L583.9,119.4 L584.9,116.0 L585.9,112.8 L586.9,109.8 L587.9,107.0 L588.9,104.3 L589.9,101.6 L590.9,99.1 L591.9,96.9 L592.9,94.8 L593.9,93.0 L594.9,91.2 L595.9,89.6 L596.9,88.0 L597.9,86.5 L598.9,85.1 L599.9,83.7 L600.9,82.5 L601.9,81.3 L602.9,80.3 L603.9,79.4 L604.9,78.5 L605.9,77.7 L606.9,77.0 L607.9,76.2 L608.9,75.5 L609.9,74.9 L610.9,74.3 L611.9,73.9 L612.9,73.6 L613.9,73.4 L614.9,73.2 L615.9,73.0 L616.9,72.8 L617.9,72.7 L618.9,72.6 L619.9,72.5 L620.9,72.4 L621.9,72.4 L622.9,72.3 L623.9,72.3 L624.9,72.2 L625.9,72.2 L626.9,72.2 L627.9,72.1 L628.9,72.1 L629.9,72.1 L630.9,72.1 L631.9,72.1 L632.9,72.2 L633.9,72.2 L634.9,72.2 L635.9,72.2 L636.9,72.2 L637.9,72.3 L638.9,72.3 L639.9,72.3 L640.9,72.3 L641.9,72.3 L642.9,72.4 L643.9,72.4 L644.9,72.4 L645.9,72.4 L646.9,72.5 L647.9,72.5 L648.9,72.5 L649.9,72.6 L650.9,72.6 L651.9,72.7 L652.9,72.8 L653.9,72.8 L654.9,72.9 L655.9,73.0 L656.9,73.0 L657.9,73.1 L658.9,73.1 L659.9,73.2 L660.9,73.2 L661.9,73.3 L662.9,73.3 L663.9,73.4 L664.9,73.4 L665.9,73.4 L666.9,73.5 L667.9,73.5 L668.9,73.5 L669.9,73.5 L670.9,73.5 L671.9,73.5 L672.9,73.5 L673.9,73.5 L674.9,73.5 L675.9,73.5 L676.9,73.4 L677.9,73.4 L678.9,73.4 L679.9,73.4 L680.9,73.4 L681.9,73.3 L682.9,73.3 L683.9,73.3 L684.9,73.3 L685.9,73.2 L686.9,73.2 L687.9,73.2 L688.9,73.1 L689.9,73.1 L690.9,73.1 L691.9,73.1 L692.9,73.0 L693.9,73.0 L694.9,72.9 L695.9,72.9 L696.9,72.8 L697.9,72.8 L698.9,72.7 L699.9,72.6 L700.9,72.6 L701.9,72.5 L702.9,72.5 L703.9,72.4 L704.9,72.3 L705.9,72.3 L706.9,72.2 L707.9,72.2 L708.9,72.2 L709.9,72.1 L710.9,72.1 L711.9,72.1 L712.9,72.0 L713.9,72.0 L714.9,72.0 L715.9,71.9 L716.9,71.9 L717.9,71.9 L718.9,71.9 L719.9,71.8 L720.9,71.8 L721.9,71.8 L722.9,71.8 L723.9,71.8 L724.9,71.7 L725.9,71.7 L726.9,71.7 L727.9,71.7 L728.9,71.7 L729.9,71.7 L730.9,71.7 L731.9,71.7 L732.9,71.7 L733.9,71.7 L734.9,71.7 L735.9,71.7 L736.9,71.7 L737.9,71.7 L738.9,71.7 L739.9,71.7 L740.9,71.8 L741.9,71.8 L742.9,71.8 L743.9,71.8 L744.9,71.8 L745.9,71.8 L746.9,71.9 L747.9,71.9 L748.9,71.9 L749.9,71.9 L750.9,72.0 L751.9,72.0 L752.9,72.0 L753.9,72.0 L754.9,72.1" stroke="#00f" stroke-width="2.35" stroke-dasharray="2.35 3.65" fill="none"/>
<path d="M86.8,68.0 L87.8,68.0 L88.8,68.0 L89.8,68.0 L90.8,68.0 L91.8,68.0 L92.8,68.0 L93.8,68.0 L94.8,68.0 L95.8,68.0 L96.8,68.0 L97.8,68.0 L98.8,68.0 L99.8,68.0 L100.8,68.0 L101.8,68.0 L102.8,68.0 L103.8,68.0 L104.8,68.0 L105.8,68.0 L106.8,68.0 L107.8,68.0 L108.8,68.0 L109.8,68.0 L110.8,68.0 L111.8,68.0 L112.8,68.0 L113.8,68.0 L114.8,68.0 L115.8,68.0 L116.8,68.0 L117.8,68.0 L118.8,68.0 L119.8,68.0 L120.8,68.0 L121.8,68.0 L122.8,68.0 L123.8,68.0 L124.8,68.0 L125.8,68.0 L126.8,68.0 L127.8,68.0 L128.8,68.0 L129.8,68.0 L130.8,68.0 L131.8,68.0 L132.8,68.0 L133.8,68.0 L134.8,68.0 L135.8,68.0 L136.8,68.0 L137.8,68.0 L138.8,68.0 L139.8,68.0 L140.8,68.0 L141.8,68.0 L142.8,68.0 L143.8,68.0 L144.8,68.0 L145.8,68.0 L146.8,68.0 L147.8,68.0 L148.8,68.0 L149.8,68.0 L150.8,68.0 L151.8,68.1 L152.8,68.1 L153.8,68.1 L154.8,68.1 L155.8,68.1 L156.8,68.1 L157.8,68.1 L158.8,68.1 L159.8,68.1 L160.8,68.1 L161.8,68.1 L162.8,68.1 L163.8,68.1 L164.8,68.1 L165.8,68.1 L166.8,68.1 L167.8,68.1 L168.8,68.1 L169.8,68.1 L170.8,68.1 L171.8,68.1 L172.8,68.1 L173.8,68.1 L174.8,68.1 L175.8,68.1 L176.8,68.1 L177.8,68.2 L178.8,68.2 L179.8,68.2 L180.8,68.2 L181.8,68.2 L182.8,68.2 L183.8,68.2 L184.8,68.2 L185.8,68.2 L186.8,68.2 L187.8,68.2 L188.8,68.2 L189.8,68.2 L190.8,68.2 L191.8,68.2 L192.8,68.3 L193.8,68.3 L194.8,68.3 L195.8,68.3 L196.8,68.3 L197.8,68.3 L198.8,68.3 L199.8,68.3 L200.8,68.3 L201.8,68.4 L202.8,68.4 L203.8,68.4 L204.8,68.4 L205.8,68.4 L206.8,68.4 L207.8,68.5 L208.8,68.5 L209.8,68.6 L210.8,68.6 L211.8,68.7 L212.8,68.7 L213.8,68.8 L214.8,68.9 L215.8,68.9 L216.8,69.0 L217.8,69.1 L218.8,69.2 L219.8,69.3 L220.8,69.3 L221.8,69.4 L222.8,69.5 L223.8,69.6 L224.8,69.7 L225.8,69.8 L226.8,69.9 L227.8,70.0 L228.8,70.1 L229.8,70.2 L230.8,70.3 L231.8,70.5 L232.8,70.6 L233.8,70.7 L234.8,70.9 L235.8,71.0 L236.8,71.2 L237.8,71.3 L238.8,71.5 L239.8,71.6 L240.8,71.8 L241.8,71.9 L242.8,72.1 L243.8,72.2 L244.8,72.4 L245.8,72.5 L246.8,72.7 L247.8,72.9 L248.8,73.1 L249.8,73.3 L250.8,73.5 L251.8,73.7 L252.8,73.8 L253.8,74.0 L254.8,74.2 L255.8,74.3 L256.9,74.5 L257.9,74.6 L258.9,74.7 L259.9,74.9 L260.9,75.0 L261.9,75.1 L262.9,75.3 L263.9,75.4 L264.9,75.5 L265.9,75.6 L266.9,75.6 L267.9,75.7 L268.9,75.7 L269.9,75.7 L270.9,75.7 L271.9,75.6 L272.9,75.5 L273.9,75.4 L274.9,75.3 L275.9,75.2 L276.9,75.0 L277.9,74.9 L278.9,74.7 L279.9,74.5 L280.9,74.4 L281.9,74.2 L282.9,74.0 L283.9,73.9 L284.9,73.7 L285.9,73.6 L286.9,73.4 L287.9,73.2 L288.9,73.1 L289.9,72.9 L290.9,72.7 L291.9,72.5 L292.9,72.3 L293.9,72.1 L294.9,72.0 L295.9,71.8 L296.9,71.6 L297.9,71.5 L298.9,71.3 L299.9,71.2 L300.9,71.1 L301.9,71.0 L302.9,70.9 L303.9,70.8 L304.9,70.8 L305.9,70.7 L306.9,70.6 L307.9,70.5 L308.9,70.4 L309.9,70.4 L310.9,70.3 L311.9,70.2 L312.9,70.2 L313.9,70.2 L314.9,70.1 L315.9,70.1 L316.9,70.1 L317.9,70.1 L318.9,70.1 L319.9,70.1 L320.9,70.2 L321.9,70.2 L322.9,70.3 L323.9,70.3 L324.9,70.4 L325.9,70.5 L326.9,70.6 L327.9,70.6 L328.9,70.7 L329.9,70.8 L330.9,70.9 L331.9,71.0 L332.9,71.1 L333.9,71.2 L334.9,71.3 L335.9,71.5 L336.9,71.6 L337.9,71.8 L338.9,72.0 L339.9,72.2 L340.9,72.4 L341.9,72.6 L342.9,72.9 L343.9,73.1 L344.9,73.3 L345.9,73.5 L346.9,73.7 L347.9,73.9 L348.9,74.1 L349.9,74.2 L350.9,74.4 L351.9,74.6 L352.9,74.8 L353.9,75.0 L354.9,75.1 L355.9,75.3 L356.9,75.5 L357.9,75.6 L358.9,75.8 L359.9,75.9 L360.9,76.1 L361.9,76.2 L362.9,76.3 L363.9,76.4 L364.9,76.5 L365.9,76.6 L366.9,76.6 L367.9,76.7 L368.9,76.8 L369.9,76.8 L370.9,76.8 L371.9,76.9 L372.9,76.9 L373.9,76.9 L374.9,76.9 L375.9,76.8 L376.9,76.8 L377.9,76.7 L378.9,76.6 L379.9,76.5 L380.9,76.4 L381.9,76.3 L382.9,76.2 L383.9,76.0 L384.9,75.9 L385.9,75.7 L386.9,75.6 L387.9,75.4 L388.9,75.3 L389.9,75.1 L390.9,75.0 L391.9,74.8 L392.9,74.6 L393.9,74.4 L394.9,74.2 L395.9,73.9 L396.9,73.7 L397.9,73.4 L398.9,73.2 L399.9,73.0 L400.9,72.7 L401.9,72.5 L402.9,72.3 L403.9,72.1 L404.9,71.9 L405.9,71.8 L406.9,71.6 L407.9,71.5 L408.9,71.3 L409.9,71.2 L410.9,71.0 L411.9,70.9 L412.9,70.8 L413.9,70.7 L414.9,70.6 L415.9,70.5 L416.9,70.4 L417.9,70.3 L418.9,70.3 L419.9,70.2 L420.9,70.2 L421.9,70.1 L422.9,70.1 L423.9,70.0 L424.9,70.0 L425.9,69.9 L426.9,69.9 L427.9,69.9 L428.9,69.9 L429.9,69.9 L430.9,69.9 L431.9,69.9 L432.9,69.9 L433.9,69.9 L434.9,69.9 L435.9,69.9 L436.9,69.9 L437.9,70.0 L438.9,70.0 L439.9,70.0 L440.9,70.0 L441.9,70.0 L442.9,70.0 L443.9,70.0 L444.9,70.1 L445.9,70.2 L446.9,70.2 L447.9,70.3 L448.9,70.4 L449.9,70.5 L450.9,70.5 L451.9,70.6 L452.9,70.7 L453.9,70.9 L454.9,71.0 L455.9,71.2 L456.9,71.4 L457.9,71.5 L458.9,71.8 L459.9,72.0 L460.9,72.2 L461.9,72.6 L462.9,72.9 L463.9,73.3 L464.9,73.7 L465.9,74.1 L466.9,74.6 L467.9,75.1 L468.9,75.6 L469.9,76.2 L470.9,76.9 L471.9,77.6 L472.9,78.4 L473.9,79.4 L474.9,80.4 L475.9,81.6 L476.9,82.8 L477.9,84.1 L478.9,85.5 L479.9,87.1 L480.9,88.8 L481.9,90.7 L482.9,92.7 L483.9,94.7 L484.9,96.8 L485.9,99.0 L486.9,101.2 L487.9,103.6 L488.9,106.1 L489.9,108.7 L490.9,111.4 L491.9,114.3 L492.9,117.3 L493.9,120.5 L494.9,123.8 L495.9,127.4 L496.9,131.3 L497.9,135.5 L498.9,139.7 L499.9,143.9 L500.9,148.2 L501.9,152.5 L502.9,156.9 L503.9,161.3 L504.9,165.7 L505.9,170.2 L506.9,174.5 L507.9,178.7 L508.9,182.8 L509.9,187.0 L510.9,191.2 L511.9,195.5 L512.9,200.0 L513.9,204.5 L514.9,209.0 L515.9,213.5 L516.9,217.9 L517.9,222.2 L518.9,226.4 L519.9,230.7 L520.9,234.8 L521.9,238.6 L522.9,242.2 L523.9,245.4 L524.9,248.5 L525.9,251.5 L526.9,254.3 L527.9,256.9 L528.9,259.2 L529.9,261.4 L530.9,263.5 L531.9,265.4 L532.9,267.2 L533.9,268.7 L534.9,269.9 L535.9,270.8 L536.9,271.7 L537.9,272.6 L538.9,273.2 L539.9,273.8 L540.9,274.1 L541.9,274.1 L542.9,273.9 L543.9,273.4 L544.9,272.8 L545.9,272.0 L546.9,271.1 L547.9,270.2 L548.9,269.1 L549.9,267.7 L550.9,266.0 L551.9,264.1 L552.9,262.1 L553.9,259.9 L554.9,257.7 L555.9,255.1 L556.9,252.4 L557.9,249.5 L558.9,246.5 L559.9,243.3 L560.9,239.8 L561.9,236.1 L562.9,232.0 L563.9,227.8 L564.9,223.6 L565.9,219.3 L566.9,215.0 L567.9,210.6 L568.9,206.0 L569.9,201.5 L570.9,197.1 L571.9,192.8 L572.9,188.5 L573.9,184.4 L574.9,180.2 L575.9,176.0 L576.9,171.8 L577.9,167.4 L578.9,162.9 L579.9,158.5 L580.9,154.2 L581.9,149.9 L582.9,145.6 L583.9,141.5 L584.9,137.2 L585.9,133.1 L586.9,129.1 L587.9,125.4 L588.9,122.0 L589.9,118.8 L590.9,115.8 L591.9,112.9 L592.9,110.2 L593.9,107.6 L594.9,105.1 L595.9,102.7 L596.9,100.4 L597.9,98.2 L598.9,96.1 L599.9,94.1 L600.9,92.1 L601.9,90.3 L602.9,88.5 L603.9,86.9 L604.9,85.5 L605.9,84.2 L606.9,83.0 L607.9,81.9 L608.9,80.9 L609.9,79.9 L610.9,79.1 L611.9,78.4 L612.9,77.8 L613.9,77.2 L614.9,76.7 L615.9,76.3 L616.9,75.9 L617.9,75.5 L618.9,75.1 L619.9,74.8 L620.9,74.5 L621.9,74.2 L622.9,74.0 L623.9,73.8 L624.9,73.6 L625.9,73.4 L626.9,73.3 L627.9,73.1 L628.9,73.0 L629.9,72.9 L630.9,72.8 L631.9,72.7 L632.9,72.6 L633.9,72.6 L634.9,72.5 L635.9,72.4 L636.9,72.4 L637.9,72.4 L638.9,72.3 L639.9,72.3 L640.9,72.3 L641.9,72.3 L642.9,72.4 L643.9,72.4 L644.9,72.4 L645.9,72.4 L646.9,72.5 L647.9,72.5 L648.9,72.5 L649.9,72.6 L650.9,72.6 L651.9,72.7 L652.9,72.8 L653.9,72.8 L654.9,72.9 L655.9,73.0 L656.9,73.0 L657.9,73.1 L658.9,73.1 L659.9,73.2 L660.9,73.2 L661.9,73.3 L662.9,73.3 L663.9,73.4 L664.9,73.4 L665.9,73.4 L666.9,73.5 L667.9,73.5 L668.9,73.5 L669.9,73.5 L670.9,73.5 L671.9,73.5 L672.9,73.5 L673.9,73.5 L674.9,73.5 L675.9,73.5 L676.9,73.4 L677.9,73.4 L678.9,73.4 L679.9,73.4 L680.9,73.4 L681.9,73.3 L682.9,73.3 L683.9,73.3 L684.9,73.3 L685.9,73.2 L686.9,73.2 L687.9,73.2 L688.9,73.1 L689.9,73.1 L690.9,73.1 L691.9,73.1 L692.9,73.0 L693.9,73.0 L694.9,72.9 L695.9,72.9 L696.9,72.8 L697.9,72.8 L698.9,72.7 L699.9,72.6 L700.9,72.6 L701.9,72.5 L702.9,72.5 L703.9,72.4 L704.9,72.3 L705.9,72.3 L706.9,72.2 L707.9,72.2 L708.9,72.2 L709.9,72.1 L710.9,72.1 L711.9,72.1 L712.9,72.0 L713.9,72.0 L714.9,72.0 L715.9,71.9 L716.9,71.9 L717.9,71.9 L718.9,71.9 L719.9,71.8 L720.9,71.8 L721.9,71.8 L722.9,71.8 L723.9,71.8 L724.9,71.7 L725.9,71.7 L726.9,71.7 L727.9,71.7 L728.9,71.7 L729.9,71.7 L730.9,71.7 L731.9,71.7 L732.9,71.7 L733.9,71.7 L734.9,71.7 L735.9,71.7 L736.9,71.7 L737.9,71.7 L738.9,71.7 L739.9,71.7 L740.9,71.8 L741.9,71.8 L742.9,71.8 L743.9,71.8 L744.9,71.8 L745.9,71.8 L746.9,71.9 L747.9,71.9 L748.9,71.9 L749.9,71.9 L750.9,72.0 L751.9,72.0 L752.9,72.0 L753.9,72.0 L754.9,72.1" stroke="#f00" stroke-width="2.5" stroke-linejoin="round" fill="none"/>
</g>
<rect x="86.85" y="43.35" width="668.55" height="291.84999999999997" fill="none" stroke="#000" stroke-width="1.75"/>
<path d="M131.3,335.2v-12M131.3,43.35v12M265.0,335.2v-12M265.0,43.35v12M398.8,335.2v-12M398.8,43.35v12M532.5,335.2v-12M532.5,43.35v12M666.3,335.2v-12M666.3,43.35v12M86.85,319.8h5.5M755.4,319.8h-5.5M86.85,304.5h11M755.4,304.5h-11M86.85,289.1h5.5M755.4,289.1h-5.5M86.85,273.7h11M755.4,273.7h-11M86.85,258.4h5.5M755.4,258.4h-5.5M86.85,243.0h11M755.4,243.0h-11M86.85,227.6h5.5M755.4,227.6h-5.5M86.85,212.2h11M755.4,212.2h-11M86.85,196.9h5.5M755.4,196.9h-5.5M86.85,181.5h11M755.4,181.5h-11M86.85,166.1h5.5M755.4,166.1h-5.5M86.85,150.8h11M755.4,150.8h-11M86.85,135.4h5.5M755.4,135.4h-5.5M86.85,120.0h11M755.4,120.0h-11M86.85,104.7h5.5M755.4,104.7h-5.5M86.85,89.3h11M755.4,89.3h-11M86.85,73.9h5.5M755.4,73.9h-5.5M86.85,58.5h11M755.4,58.5h-11" stroke="#000" stroke-width="1.6" fill="none"/>
<text class="sans" x="100.3" y="363.6">3960.6</text>
<text class="sans" x="234.0" y="363.6">3960.9</text>
<text class="sans" x="367.8" y="363.6">3961.2</text>
<text class="sans" x="501.5" y="363.6">3961.5</text>
<text class="sans" x="635.3" y="363.6">3961.8</text>
<text class="sans" x="71.6" y="344.2" text-anchor="end">0.1</text>
<text class="sans" x="71.6" y="313.5" text-anchor="end">0.2</text>
<text class="sans" x="71.6" y="282.7" text-anchor="end">0.3</text>
<text class="sans" x="71.6" y="252.0" text-anchor="end">0.4</text>
<text class="sans" x="71.6" y="221.2" text-anchor="end">0.5</text>
<text class="sans" x="71.6" y="190.5" text-anchor="end">0.6</text>
<text class="sans" x="71.6" y="159.8" text-anchor="end">0.7</text>
<text class="sans" x="71.6" y="129.0" text-anchor="end">0.8</text>
<text class="sans" x="71.6" y="98.3" text-anchor="end">0.9</text>
<text class="sans" x="71.6" y="67.5" text-anchor="end">1.0</text>
<text class="sans" x="422.3" y="391.0" text-anchor="middle">Lambda</text>
<text class="serif" transform="translate(33.5,254.6) rotate(-90)" textLength="83.5" lengthAdjust="spacingAndGlyphs" fill="#000" stroke="#000">Arbitrary</text>
<text class="serif" transform="translate(33.5,162.0) rotate(-90)" textLength="38.8" lengthAdjust="spacingAndGlyphs" fill="#000" stroke="#000">Flux</text>
<text class="serif" x="154.1" y="215.6" textLength="23.6" lengthAdjust="spacingAndGlyphs" fill="#000" stroke="#000">CS</text>
<text class="serif" x="187.4" y="215.6" textLength="108.8" lengthAdjust="spacingAndGlyphs" fill="#000" stroke="#000">30315−029</text>
<text class="serif" x="154.1" y="240.3" textLength="17.9" lengthAdjust="spacingAndGlyphs" fill="#000" stroke="#000">Al</text>
<text class="serif" x="181.8" y="240.3" fill="#000" stroke="#000">I</text>
<text class="serif" x="197.4" y="240.3" textLength="75.2" lengthAdjust="spacingAndGlyphs" fill="#000" stroke="#000">3961.52</text>
<text class="serif" x="283.3" y="240.3" textLength="12.6" lengthAdjust="spacingAndGlyphs" fill="#000" stroke="#000">A</text>
<text class="serif" x="153.9" y="264.9" textLength="45.2" lengthAdjust="spacingAndGlyphs" fill="#f00" stroke="#f00">A(Al)</text>
<text class="serif" x="210.7" y="264.9" textLength="12.4" lengthAdjust="spacingAndGlyphs" fill="#f00" stroke="#f00">=</text>
<text class="serif" x="234.6" y="264.9" textLength="40.0" lengthAdjust="spacingAndGlyphs" fill="#f00" stroke="#f00">2.68</text>
<text class="serif" x="153.9" y="289.4" textLength="45.2" lengthAdjust="spacingAndGlyphs" fill="#00f" stroke="#00f">A(Al)</text>
<text class="serif" x="210.7" y="289.4" textLength="12.4" lengthAdjust="spacingAndGlyphs" fill="#00f" stroke="#00f">=</text>
<text class="serif" x="234.6" y="289.4" textLength="94.0" lengthAdjust="spacingAndGlyphs" fill="#00f" stroke="#00f">3.20,2.20,</text>
<text class="serif" x="329.0" y="289.4" textLength="47.2" lengthAdjust="spacingAndGlyphs" fill="#00f" stroke="#00f">none</text>
<clipPath id="clip2"><rect x="86.85" y="419.95" width="668.55" height="291.95"/></clipPath>
<g clip-path="url(#clip2)">
<path d="M86.85,435.2H755.4" stroke="#000" stroke-width="2.3" fill="none"/>
<path d="M83.8,437.6l14,14M83.8,451.6l14,-14M90.1,432.1l14,14M90.1,446.1l14,-14M96.3,437.1l14,14M96.3,451.1l14,-14M102.6,452.2l14,14M102.6,466.2l14,-14M108.8,445.6l14,14M108.8,459.6l14,-14M115.1,443.1l14,14M115.1,457.1l14,-14M121.4,440.6l14,14M121.4,454.6l14,-14M127.6,438.1l14,14M127.6,452.1l14,-14M133.9,433.1l14,14M133.9,447.1l14,-14M140.1,427.1l14,14M140.1,441.1l14,-14M146.4,436.1l14,14M146.4,450.1l14,-14M152.7,438.6l14,14M152.7,452.6l14,-14M158.9,438.1l14,14M158.9,452.1l14,-14M165.2,438.1l14,14M165.2,452.1l14,-14M171.4,437.0l14,14M171.4,451.0l14,-14M177.7,429.3l14,14M177.7,443.3l14,-14M184.0,422.8l14,14M184.0,436.8l14,-14M190.2,434.7l14,14M190.2,448.7l14,-14M196.5,436.2l14,14M196.5,450.2l14,-14M202.7,433.7l14,14M202.7,447.7l14,-14M209.0,433.1l14,14M209.0,447.1l14,-14M215.3,439.4l14,14M215.3,453.4l14,-14M221.5,433.1l14,14M221.5,447.1l14,-14M227.8,424.9l14,14M227.8,438.9l14,-14M234.0,435.0l14,14M234.0,449.0l14,-14M240.3,432.5l14,14M240.3,446.5l14,-14M246.6,434.0l14,14M246.6,448.0l14,-14M252.8,450.0l14,14M252.8,464.0l14,-14M259.1,456.9l14,14M259.1,470.9l14,-14M265.3,448.2l14,14M265.3,462.2l14,-14M271.6,435.4l14,14M271.6,449.4l14,-14M277.9,430.6l14,14M277.9,444.6l14,-14M284.1,436.9l14,14M284.1,450.9l14,-14M290.4,444.6l14,14M290.4,458.6l14,-14M296.6,451.3l14,14M296.6,465.3l14,-14M302.9,440.9l14,14M302.9,454.9l14,-14M309.2,441.9l14,14M309.2,455.9l14,-14M315.4,441.9l14,14M315.4,455.9l14,-14M321.7,441.2l14,14M321.7,455.2l14,-14M327.9,436.2l14,14M327.9,450.2l14,-14M334.2,438.2l14,14M334.2,452.2l14,-14M340.5,444.6l14,14M340.5,458.6l14,-14M346.7,460.1l14,14M346.7,474.1l14,-14M353.0,450.7l14,14M353.0,464.7l14,-14M359.2,449.4l14,14M359.2,463.4l14,-14M365.5,452.5l14,14M365.5,466.5l14,-14M371.8,456.9l14,14M371.8,470.9l14,-14M378.0,459.4l14,14M378.0,473.4l14,-14M384.3,453.8l14,14M384.3,467.8l14,-14M390.5,435.6l14,14M390.5,449.6l14,-14M396.8,429.3l14,14M396.8,443.3l14,-14M403.1,426.8l14,14M403.1,440.8l14,-14M409.3,433.1l14,14M409.3,447.1l14,-14M415.6,451.3l14,14M415.6,465.3l14,-14M421.8,445.0l14,14M421.8,459.0l14,-14M428.1,445.6l14,14M428.1,459.6l14,-14M434.4,451.9l14,14M434.4,465.9l14,-14M440.6,426.2l14,14M440.6,440.2l14,-14M446.9,442.1l14,14M446.9,456.1l14,-14M453.1,458.2l14,14M453.1,472.2l14,-14M459.4,452.9l14,14M459.4,466.9l14,-14M465.7,439.4l14,14M465.7,453.4l14,-14M471.9,452.8l14,14M471.9,466.8l14,-14M478.2,478.2l14,14M478.2,492.2l14,-14M484.4,484.3l14,14M484.4,498.3l14,-14M490.7,508.1l14,14M490.7,522.1l14,-14M497.0,523.2l14,14M497.0,537.2l14,-14M503.2,528.8l14,14M503.2,542.8l14,-14M509.5,565.8l14,14M509.5,579.8l14,-14M515.7,595.6l14,14M515.7,609.6l14,-14M522.0,618.8l14,14M522.0,632.8l14,-14M528.3,628.8l14,14M528.3,642.8l14,-14M534.5,642.6l14,14M534.5,656.6l14,-14M540.8,639.5l14,14M540.8,653.5l14,-14M547.0,625.7l14,14M547.0,639.7l14,-14M553.3,611.3l14,14M553.3,625.3l14,-14M559.6,569.6l14,14M559.6,583.6l14,-14M565.8,536.3l14,14M565.8,550.3l14,-14M572.1,518.1l14,14M572.1,532.1l14,-14M578.3,488.9l14,14M578.3,502.9l14,-14M584.6,475.7l14,14M584.6,489.7l14,-14M590.9,464.4l14,14M590.9,478.4l14,-14M597.1,451.5l14,14M597.1,465.5l14,-14M603.4,456.3l14,14M603.4,470.3l14,-14M609.6,448.8l14,14M609.6,462.8l14,-14M615.9,437.5l14,14M615.9,451.5l14,-14M622.2,436.9l14,14M622.2,450.9l14,-14M628.4,444.4l14,14M628.4,458.4l14,-14M634.7,443.0l14,14M634.7,457.0l14,-14M640.9,433.7l14,14M640.9,447.7l14,-14M647.2,444.4l14,14M647.2,458.4l14,-14M653.5,444.4l14,14M653.5,458.4l14,-14M659.7,446.3l14,14M659.7,460.3l14,-14M666.0,447.5l14,14M666.0,461.5l14,-14M672.2,433.1l14,14M672.2,447.1l14,-14M678.5,436.9l14,14M678.5,450.9l14,-14M684.8,445.6l14,14M684.8,459.6l14,-14M691.0,440.6l14,14M691.0,454.6l14,-14M697.3,439.4l14,14M697.3,453.4l14,-14M703.5,441.2l14,14M703.5,455.2l14,-14M709.8,433.1l14,14M709.8,447.1l14,-14M716.1,443.8l14,14M716.1,457.8l14,-14M722.3,444.4l14,14M722.3,458.4l14,-14M728.6,443.1l14,14M728.6,457.1l14,-14M734.8,455.7l14,14M734.8,469.7l14,-14M741.1,444.4l14,14M741.1,458.4l14,-14M747.4,443.8l14,14M747.4,457.8l14,-14" stroke="#000" stroke-width="2.45" fill="none"/>
<path d="M86.8,443.7 L87.8,443.7 L88.8,443.7 L89.8,443.7 L90.8,443.7 L91.8,443.8 L92.8,443.8 L93.8,443.8 L94.8,443.8 L95.8,443.8 L96.8,443.8 L97.8,443.8 L98.8,443.9 L99.8,443.9 L100.8,443.9 L101.8,443.9 L102.8,443.9 L103.8,443.9 L104.8,443.9 L105.8,443.9 L106.8,444.0 L107.8,444.0 L108.8,444.0 L109.8,444.0 L110.8,444.0 L111.8,444.0 L112.8,444.0 L113.8,444.0 L114.8,444.1 L115.8,444.1 L116.8,444.1 L117.8,444.1 L118.8,444.1 L119.8,444.1 L120.8,444.1 L121.8,444.1 L122.8,444.2 L123.8,444.2 L124.8,444.2 L125.8,444.2 L126.8,444.2 L127.8,444.2 L128.8,444.2 L129.8,444.3 L130.8,444.3 L131.8,444.3 L132.8,444.3 L133.8,444.3 L134.8,444.3 L135.8,444.3 L136.8,444.3 L137.8,444.4 L138.8,444.4 L139.8,444.4 L140.8,444.4 L141.8,444.4 L142.8,444.4 L143.8,444.4 L144.8,444.4 L145.8,444.5 L146.8,444.5 L147.8,444.5 L148.8,444.5 L149.8,444.5 L150.8,444.5 L151.8,444.5 L152.8,444.5 L153.8,444.6 L154.8,444.6 L155.8,444.6 L156.8,444.6 L157.8,444.6 L158.8,444.6 L159.8,444.6 L160.8,444.6 L161.8,444.7 L162.8,444.7 L163.8,444.7 L164.8,444.7 L165.8,444.7 L166.8,444.7 L167.8,444.7 L168.8,444.7 L169.8,444.8 L170.8,444.8 L171.8,444.8 L172.8,444.8 L173.8,444.8 L174.8,444.8 L175.8,444.8 L176.8,444.8 L177.8,444.9 L178.8,444.9 L179.8,444.9 L180.8,444.9 L181.8,444.9 L182.8,444.9 L183.8,444.9 L184.8,444.9 L185.8,444.9 L186.8,445.0 L187.8,445.0 L188.8,445.0 L189.8,445.0 L190.8,445.0 L191.8,445.0 L192.8,445.0 L193.8,445.0 L194.8,445.0 L195.8,445.1 L196.8,445.1 L197.8,445.1 L198.8,445.1 L199.8,445.1 L200.8,445.1 L201.8,445.1 L202.8,445.1 L203.8,445.2 L204.8,445.2 L205.8,445.2 L206.8,445.2 L207.8,445.2 L208.8,445.2 L209.8,445.2 L210.8,445.2 L211.8,445.2 L212.8,445.3 L213.8,445.3 L214.8,445.3 L215.8,445.3 L216.8,445.3 L217.8,445.3 L218.8,445.3 L219.8,445.3 L220.8,445.4 L221.8,445.4 L222.8,445.4 L223.8,445.4 L224.8,445.4 L225.8,445.4 L226.8,445.4 L227.8,445.4 L228.8,445.5 L229.8,445.5 L230.8,445.5 L231.8,445.5 L232.8,445.5 L233.8,445.5 L234.8,445.5 L235.8,445.6 L236.8,445.6 L237.8,445.6 L238.8,445.6 L239.8,445.6 L240.8,445.6 L241.8,445.7 L242.8,445.7 L243.8,445.7 L244.8,445.7 L245.8,445.7 L246.8,445.7 L247.8,445.8 L248.8,445.8 L249.8,445.8 L250.8,445.8 L251.8,445.9 L252.8,445.9 L253.8,445.9 L254.8,445.9 L255.8,446.0 L256.9,446.0 L257.9,446.0 L258.9,446.0 L259.9,446.0 L260.9,446.1 L261.9,446.1 L262.9,446.1 L263.9,446.1 L264.9,446.1 L265.9,446.1 L266.9,446.1 L267.9,446.1 L268.9,446.1 L269.9,446.1 L270.9,446.0 L271.9,446.0 L272.9,446.0 L273.9,446.0 L274.9,446.0 L275.9,445.9 L276.9,445.9 L277.9,445.9 L278.9,445.9 L279.9,445.8 L280.9,445.8 L281.9,445.8 L282.9,445.8 L283.9,445.7 L284.9,445.7 L285.9,445.7 L286.9,445.6 L287.9,445.6 L288.9,445.6 L289.9,445.5 L290.9,445.5 L291.9,445.5 L292.9,445.4 L293.9,445.4 L294.9,445.3 L295.9,445.3 L296.9,445.3 L297.9,445.2 L298.9,445.2 L299.9,445.2 L300.9,445.2 L301.9,445.1 L302.9,445.1 L303.9,445.1 L304.9,445.1 L305.9,445.1 L306.9,445.1 L307.9,445.1 L308.9,445.2 L309.9,445.2 L310.9,445.3 L311.9,445.3 L312.9,445.4 L313.9,445.5 L314.9,445.5 L315.9,445.6 L316.9,445.7 L317.9,445.8 L318.9,445.9 L319.9,446.0 L320.9,446.1 L321.9,446.2 L322.9,446.4 L323.9,446.5 L324.9,446.7 L325.9,447.0 L326.9,447.2 L327.9,447.5 L328.9,447.8 L329.9,448.1 L330.9,448.4 L331.9,448.7 L332.9,449.1 L333.9,449.4 L334.9,449.7 L335.9,450.1 L336.9,450.5 L337.9,451.0 L338.9,451.4 L339.9,451.9 L340.9,452.3 L341.9,452.8 L342.9,453.3 L343.9,453.7 L344.9,454.1 L345.9,454.6 L346.9,455.0 L347.9,455.5 L348.9,456.0 L349.9,456.4 L350.9,456.9 L351.9,457.3 L352.9,457.8 L353.9,458.2 L354.9,458.5 L355.9,458.9 L356.9,459.2 L357.9,459.4 L358.9,459.7 L359.9,459.9 L360.9,460.2 L361.9,460.4 L362.9,460.6 L363.9,460.8 L364.9,461.0 L365.9,461.2 L366.9,461.3 L367.9,461.5 L368.9,461.5 L369.9,461.6 L370.9,461.6 L371.9,461.6 L372.9,461.5 L373.9,461.4 L374.9,461.3 L375.9,461.2 L376.9,461.0 L377.9,460.9 L378.9,460.7 L379.9,460.5 L380.9,460.3 L381.9,460.1 L382.9,459.9 L383.9,459.5 L384.9,459.2 L385.9,458.8 L386.9,458.3 L387.9,457.8 L388.9,457.3 L389.9,456.8 L390.9,456.4 L391.9,455.9 L392.9,455.5 L393.9,455.1 L394.9,454.7 L395.9,454.3 L396.9,453.9 L397.9,453.5 L398.9,453.1 L399.9,452.8 L400.9,452.4 L401.9,452.0 L402.9,451.7 L403.9,451.4 L404.9,451.0 L405.9,450.7 L406.9,450.4 L407.9,450.1 L408.9,449.8 L409.9,449.5 L410.9,449.2 L411.9,449.0 L412.9,448.7 L413.9,448.5 L414.9,448.3 L415.9,448.2 L416.9,448.0 L417.9,447.8 L418.9,447.7 L419.9,447.5 L420.9,447.4 L421.9,447.3 L422.9,447.1 L423.9,447.0 L424.9,446.9 L425.9,446.8 L426.9,446.7 L427.9,446.7 L428.9,446.6 L429.9,446.6 L430.9,446.5 L431.9,446.5 L432.9,446.4 L433.9,446.4 L434.9,446.3 L435.9,446.3 L436.9,446.3 L437.9,446.2 L438.9,446.2 L439.9,446.2 L440.9,446.1 L441.9,446.1 L442.9,446.1 L443.9,446.1 L444.9,446.1 L445.9,446.1 L446.9,446.1 L447.9,446.1 L448.9,446.1 L449.9,446.1 L450.9,446.1 L451.9,446.1 L452.9,446.1 L453.9,446.1 L454.9,446.1 L455.9,446.1 L456.9,446.1 L457.9,446.1 L458.9,446.1 L459.9,446.1 L460.9,446.1 L461.9,446.1 L462.9,446.1 L463.9,446.1 L464.9,446.1 L465.9,446.1 L466.9,446.1 L467.9,446.1 L468.9,446.1 L469.9,446.1 L470.9,446.1 L471.9,446.1 L472.9,446.1 L473.9,446.1 L474.9,446.1 L475.9,446.1 L476.9,446.1 L477.9,446.1 L478.9,446.1 L479.9,446.1 L480.9,446.1 L481.9,446.1 L482.9,446.1 L483.9,446.1 L484.9,446.1 L485.9,446.1 L486.9,446.1 L487.9,446.1 L488.9,446.1 L489.9,446.1 L490.9,446.1 L491.9,446.1 L492.9,446.1 L493.9,446.1 L494.9,446.1 L495.9,446.1 L496.9,446.1 L497.9,446.1 L498.9,446.1 L499.9,446.1 L500.9,446.1 L501.9,446.1 L502.9,446.1 L503.9,446.1 L504.9,446.1 L505.9,446.1 L506.9,446.1 L507.9,446.1 L508.9,446.1 L509.9,446.1 L510.9,446.1 L511.9,446.1 L512.9,446.1 L513.9,446.2 L514.9,446.2 L515.9,446.2 L516.9,446.2 L517.9,446.2 L518.9,446.2 L519.9,446.2 L520.9,446.2 L521.9,446.2 L522.9,446.2 L523.9,446.2 L524.9,446.2 L525.9,446.2 L526.9,446.2 L527.9,446.2 L528.9,446.2 L529.9,446.2 L530.9,446.2 L531.9,446.2 L532.9,446.2 L533.9,446.2 L534.9,446.2 L535.9,446.2 L536.9,446.2 L537.9,446.2 L538.9,446.2 L539.9,446.2 L540.9,446.2 L541.9,446.2 L542.9,446.2 L543.9,446.2 L544.9,446.2 L545.9,446.2 L546.9,446.2 L547.9,446.2 L548.9,446.2 L549.9,446.2 L550.9,446.2 L551.9,446.2 L552.9,446.2 L553.9,446.2 L554.9,446.2 L555.9,446.2 L556.9,446.2 L557.9,446.2 L558.9,446.2 L559.9,446.2 L560.9,446.2 L561.9,446.2 L562.9,446.2 L563.9,446.2 L564.9,446.2 L565.9,446.2 L566.9,446.2 L567.9,446.2 L568.9,446.2 L569.9,446.2 L570.9,446.2 L571.9,446.2 L572.9,446.2 L573.9,446.2 L574.9,446.3 L575.9,446.3 L576.9,446.3 L577.9,446.3 L578.9,446.3 L579.9,446.3 L580.9,446.3 L581.9,446.3 L582.9,446.3 L583.9,446.3 L584.9,446.3 L585.9,446.3 L586.9,446.3 L587.9,446.3 L588.9,446.3 L589.9,446.3 L590.9,446.3 L591.9,446.3 L592.9,446.3 L593.9,446.3 L594.9,446.4 L595.9,446.4 L596.9,446.4 L597.9,446.4 L598.9,446.5 L599.9,446.5 L600.9,446.5 L601.9,446.6 L602.9,446.7 L603.9,446.7 L604.9,446.8 L605.9,446.9 L606.9,447.0 L607.9,447.1 L608.9,447.2 L609.9,447.3 L610.9,447.4 L611.9,447.5 L612.9,447.6 L613.9,447.8 L614.9,447.9 L615.9,448.0 L616.9,448.2 L617.9,448.3 L618.9,448.4 L619.9,448.4 L620.9,448.5 L621.9,448.5 L622.9,448.6 L623.9,448.6 L624.9,448.6 L625.9,448.6 L626.9,448.7 L627.9,448.7 L628.9,448.7 L629.9,448.7 L630.9,448.7 L631.9,448.8 L632.9,448.8 L633.9,448.8 L634.9,448.8 L635.9,448.8 L636.9,448.8 L637.9,448.8 L638.9,448.8 L639.9,448.8 L640.9,448.8 L641.9,448.8 L642.9,448.8 L643.9,448.8 L644.9,448.8 L645.9,448.8 L646.9,448.8 L647.9,448.8 L648.9,448.8 L649.9,448.8 L650.9,448.8 L651.9,448.8 L652.9,448.8 L653.9,448.8 L654.9,448.8 L655.9,448.8 L656.9,448.8 L657.9,448.8 L658.9,448.8 L659.9,448.8 L660.9,448.8 L661.9,448.8 L662.9,448.8 L663.9,448.8 L664.9,448.8 L665.9,448.8 L666.9,448.8 L667.9,448.8 L668.9,448.8 L669.9,448.8 L670.9,448.8 L671.9,448.8 L672.9,448.8 L673.9,448.8 L674.9,448.8 L675.9,448.8 L676.9,448.8 L677.9,448.8 L678.9,448.8 L679.9,448.8 L680.9,448.8 L681.9,448.8 L682.9,448.8 L683.9,448.8 L684.9,448.8 L685.9,448.8 L686.9,448.8 L687.9,448.8 L688.9,448.8 L689.9,448.8 L690.9,448.8 L691.9,448.8 L692.9,448.8 L693.9,448.8 L694.9,448.8 L695.9,448.8 L696.9,448.8 L697.9,448.8 L698.9,448.8 L699.9,448.8 L700.9,448.8 L701.9,448.8 L702.9,448.8 L703.9,448.8 L704.9,448.8 L705.9,448.8 L706.9,448.8 L707.9,448.8 L708.9,448.8 L709.9,448.8 L710.9,448.8 L711.9,448.8 L712.9,448.8 L713.9,448.8 L714.9,448.8 L715.9,448.8 L716.9,448.8 L717.9,448.8 L718.9,448.8 L719.9,448.8 L720.9,448.8 L721.9,448.8 L722.9,448.8 L723.9,448.8 L724.9,448.7 L725.9,448.7 L726.9,448.7 L727.9,448.7 L728.9,448.7 L729.9,448.7 L730.9,448.7 L731.9,448.7 L732.9,448.7 L733.9,448.7 L734.9,448.7 L735.9,448.7 L736.9,448.7 L737.9,448.7 L738.9,448.7 L739.9,448.7 L740.9,448.7 L741.9,448.7 L742.9,448.7 L743.9,448.7 L744.9,448.7 L745.9,448.7 L746.9,448.6 L747.9,448.6 L748.9,448.6 L749.9,448.6 L750.9,448.6 L751.9,448.6 L752.9,448.6 L753.9,448.6 L754.9,448.6" stroke="#00f" stroke-width="2.35" stroke-dasharray="2.35 3.65" fill="none"/>
<path d="M86.8,443.7 L87.8,443.7 L88.8,443.7 L89.8,443.7 L90.8,443.7 L91.8,443.8 L92.8,443.8 L93.8,443.8 L94.8,443.8 L95.8,443.8 L96.8,443.8 L97.8,443.8 L98.8,443.9 L99.8,443.9 L100.8,443.9 L101.8,443.9 L102.8,443.9 L103.8,443.9 L104.8,443.9 L105.8,443.9 L106.8,444.0 L107.8,444.0 L108.8,444.0 L109.8,444.0 L110.8,444.0 L111.8,444.0 L112.8,444.0 L113.8,444.0 L114.8,444.1 L115.8,444.1 L116.8,444.1 L117.8,444.1 L118.8,444.1 L119.8,444.1 L120.8,444.1 L121.8,444.1 L122.8,444.2 L123.8,444.2 L124.8,444.2 L125.8,444.2 L126.8,444.2 L127.8,444.2 L128.8,444.2 L129.8,444.3 L130.8,444.3 L131.8,444.3 L132.8,444.3 L133.8,444.3 L134.8,444.3 L135.8,444.3 L136.8,444.3 L137.8,444.4 L138.8,444.4 L139.8,444.4 L140.8,444.4 L141.8,444.4 L142.8,444.4 L143.8,444.4 L144.8,444.4 L145.8,444.5 L146.8,444.5 L147.8,444.5 L148.8,444.5 L149.8,444.5 L150.8,444.5 L151.8,444.5 L152.8,444.5 L153.8,444.6 L154.8,444.6 L155.8,444.6 L156.8,444.6 L157.8,444.6 L158.8,444.6 L159.8,444.6 L160.8,444.6 L161.8,444.7 L162.8,444.7 L163.8,444.7 L164.8,444.7 L165.8,444.7 L166.8,444.7 L167.8,444.7 L168.8,444.7 L169.8,444.8 L170.8,444.8 L171.8,444.8 L172.8,444.8 L173.8,444.8 L174.8,444.8 L175.8,444.8 L176.8,444.8 L177.8,444.9 L178.8,444.9 L179.8,444.9 L180.8,444.9 L181.8,444.9 L182.8,444.9 L183.8,444.9 L184.8,444.9 L185.8,444.9 L186.8,445.0 L187.8,445.0 L188.8,445.0 L189.8,445.0 L190.8,445.0 L191.8,445.0 L192.8,445.0 L193.8,445.0 L194.8,445.0 L195.8,445.1 L196.8,445.1 L197.8,445.1 L198.8,445.1 L199.8,445.1 L200.8,445.1 L201.8,445.1 L202.8,445.1 L203.8,445.2 L204.8,445.2 L205.8,445.2 L206.8,445.2 L207.8,445.2 L208.8,445.2 L209.8,445.2 L210.8,445.2 L211.8,445.2 L212.8,445.3 L213.8,445.3 L214.8,445.3 L215.8,445.3 L216.8,445.3 L217.8,445.3 L218.8,445.3 L219.8,445.3 L220.8,445.4 L221.8,445.4 L222.8,445.4 L223.8,445.4 L224.8,445.4 L225.8,445.4 L226.8,445.4 L227.8,445.4 L228.8,445.5 L229.8,445.5 L230.8,445.5 L231.8,445.5 L232.8,445.5 L233.8,445.5 L234.8,445.5 L235.8,445.6 L236.8,445.6 L237.8,445.6 L238.8,445.6 L239.8,445.6 L240.8,445.6 L241.8,445.7 L242.8,445.7 L243.8,445.7 L244.8,445.7 L245.8,445.7 L246.8,445.7 L247.8,445.8 L248.8,445.8 L249.8,445.8 L250.8,445.8 L251.8,445.9 L252.8,445.9 L253.8,445.9 L254.8,445.9 L255.8,446.0 L256.9,446.0 L257.9,446.0 L258.9,446.0 L259.9,446.0 L260.9,446.1 L261.9,446.1 L262.9,446.1 L263.9,446.1 L264.9,446.1 L265.9,446.1 L266.9,446.1 L267.9,446.1 L268.9,446.1 L269.9,446.1 L270.9,446.0 L271.9,446.0 L272.9,446.0 L273.9,446.0 L274.9,446.0 L275.9,445.9 L276.9,445.9 L277.9,445.9 L278.9,445.9 L279.9,445.8 L280.9,445.8 L281.9,445.8 L282.9,445.8 L283.9,445.7 L284.9,445.7 L285.9,445.7 L286.9,445.6 L287.9,445.6 L288.9,445.6 L289.9,445.5 L290.9,445.5 L291.9,445.5 L292.9,445.4 L293.9,445.4 L294.9,445.3 L295.9,445.3 L296.9,445.3 L297.9,445.2 L298.9,445.2 L299.9,445.2 L300.9,445.2 L301.9,445.1 L302.9,445.1 L303.9,445.1 L304.9,445.1 L305.9,445.1 L306.9,445.1 L307.9,445.1 L308.9,445.2 L309.9,445.2 L310.9,445.3 L311.9,445.3 L312.9,445.4 L313.9,445.5 L314.9,445.5 L315.9,445.6 L316.9,445.7 L317.9,445.8 L318.9,445.9 L319.9,446.0 L320.9,446.1 L321.9,446.2 L322.9,446.4 L323.9,446.5 L324.9,446.7 L325.9,447.0 L326.9,447.2 L327.9,447.5 L328.9,447.8 L329.9,448.1 L330.9,448.4 L331.9,448.7 L332.9,449.1 L333.9,449.4 L334.9,449.7 L335.9,450.1 L336.9,450.5 L337.9,451.0 L338.9,451.4 L339.9,451.9 L340.9,452.3 L341.9,452.8 L342.9,453.3 L343.9,453.7 L344.9,454.1 L345.9,454.6 L346.9,455.0 L347.9,455.5 L348.9,456.0 L349.9,456.4 L350.9,456.9 L351.9,457.3 L352.9,457.8 L353.9,458.2 L354.9,458.5 L355.9,458.9 L356.9,459.2 L357.9,459.4 L358.9,459.7 L359.9,459.9 L360.9,460.2 L361.9,460.4 L362.9,460.6 L363.9,460.8 L364.9,461.0 L365.9,461.2 L366.9,461.3 L367.9,461.5 L368.9,461.5 L369.9,461.6 L370.9,461.6 L371.9,461.6 L372.9,461.5 L373.9,461.4 L374.9,461.3 L375.9,461.2 L376.9,461.0 L377.9,460.9 L378.9,460.7 L379.9,460.5 L380.9,460.3 L381.9,460.1 L382.9,459.9 L383.9,459.6 L384.9,459.3 L385.9,458.9 L386.9,458.5 L387.9,458.1 L388.9,457.6 L389.9,457.2 L390.9,456.8 L391.9,456.4 L392.9,456.1 L393.9,455.8 L394.9,455.5 L395.9,455.2 L396.9,454.9 L397.9,454.6 L398.9,454.3 L399.9,454.0 L400.9,453.8 L401.9,453.5 L402.9,453.3 L403.9,453.1 L404.9,452.9 L405.9,452.7 L406.9,452.6 L407.9,452.4 L408.9,452.3 L409.9,452.2 L410.9,452.1 L411.9,452.1 L412.9,452.0 L413.9,452.0 L414.9,452.0 L415.9,452.0 L416.9,452.0 L417.9,452.0 L418.9,452.0 L419.9,452.0 L420.9,452.0 L421.9,451.9 L422.9,451.9 L423.9,451.9 L424.9,451.8 L425.9,451.8 L426.9,451.8 L427.9,451.8 L428.9,451.8 L429.9,451.8 L430.9,451.8 L431.9,451.9 L432.9,451.9 L433.9,451.9 L434.9,451.9 L435.9,452.0 L436.9,452.0 L437.9,452.1 L438.9,452.2 L439.9,452.3 L440.9,452.4 L441.9,452.6 L442.9,452.8 L443.9,453.0 L444.9,453.2 L445.9,453.5 L446.9,453.8 L447.9,454.1 L448.9,454.4 L449.9,454.8 L450.9,455.1 L451.9,455.4 L452.9,455.8 L453.9,456.1 L454.9,456.4 L455.9,456.8 L456.9,457.1 L457.9,457.4 L458.9,457.8 L459.9,458.1 L460.9,458.5 L461.9,458.9 L462.9,459.3 L463.9,459.8 L464.9,460.3 L465.9,460.8 L466.9,461.5 L467.9,462.2 L468.9,463.0 L469.9,463.8 L470.9,464.7 L471.9,465.6 L472.9,466.6 L473.9,467.6 L474.9,468.8 L475.9,470.1 L476.9,471.7 L477.9,473.3 L478.9,474.9 L479.9,476.5 L480.9,478.0 L481.9,479.7 L482.9,481.4 L483.9,483.2 L484.9,485.1 L485.9,487.2 L486.9,489.5 L487.9,492.2 L488.9,495.1 L489.9,498.0 L490.9,501.0 L491.9,504.0 L492.9,507.0 L493.9,510.1 L494.9,513.2 L495.9,516.2 L496.9,519.2 L497.9,522.5 L498.9,526.7 L499.9,531.9 L500.9,537.9 L501.9,544.0 L502.9,549.6 L503.9,554.8 L504.9,559.7 L505.9,564.2 L506.9,568.3 L507.9,572.1 L508.9,575.7 L509.9,579.5 L510.9,583.8 L511.9,588.6 L512.9,593.6 L513.9,598.6 L514.9,603.2 L515.9,607.4 L516.9,611.6 L517.9,616.0 L518.9,620.4 L519.9,624.6 L520.9,628.2 L521.9,631.3 L522.9,634.2 L523.9,637.3 L524.9,640.6 L525.9,644.0 L526.9,647.2 L527.9,650.1 L528.9,652.7 L529.9,655.1 L530.9,657.2 L531.9,659.1 L532.9,660.8 L533.9,662.4 L534.9,663.7 L535.9,664.9 L536.9,665.9 L537.9,666.8 L538.9,667.4 L539.9,667.8 L540.9,668.0 L541.9,668.0 L542.9,667.8 L543.9,667.4 L544.9,666.8 L545.9,665.9 L546.9,665.0 L547.9,663.9 L548.9,662.7 L549.9,661.4 L550.9,659.9 L551.9,658.2 L552.9,656.3 L553.9,653.9 L554.9,651.2 L555.9,648.3 L556.9,645.5 L557.9,642.7 L558.9,639.8 L559.9,636.6 L560.9,633.3 L561.9,629.9 L562.9,626.4 L563.9,622.7 L564.9,618.4 L565.9,613.8 L566.9,608.8 L567.9,603.1 L568.9,596.9 L569.9,590.9 L570.9,585.3 L571.9,579.9 L572.9,574.0 L573.9,568.0 L574.9,562.6 L575.9,558.2 L576.9,554.1 L577.9,550.2 L578.9,546.4 L579.9,543.0 L580.9,539.9 L581.9,537.1 L582.9,534.3 L583.9,531.4 L584.9,528.3 L585.9,524.8 L586.9,521.0 L587.9,517.2 L588.9,513.6 L589.9,510.1 L590.9,506.8 L591.9,503.6 L592.9,500.5 L593.9,497.8 L594.9,495.3 L595.9,493.0 L596.9,490.7 L597.9,488.3 L598.9,485.9 L599.9,483.6 L600.9,481.5 L601.9,479.6 L602.9,477.9 L603.9,476.4 L604.9,474.9 L605.9,473.5 L606.9,472.1 L607.9,470.8 L608.9,469.5 L609.9,468.3 L610.9,467.1 L611.9,466.0 L612.9,465.0 L613.9,464.0 L614.9,463.1 L615.9,462.2 L616.9,461.4 L617.9,460.7 L618.9,460.2 L619.9,459.6 L620.9,459.1 L621.9,458.6 L622.9,458.2 L623.9,457.8 L624.9,457.4 L625.9,457.0 L626.9,456.6 L627.9,456.3 L628.9,455.9 L629.9,455.6 L630.9,455.3 L631.9,455.0 L632.9,454.7 L633.9,454.4 L634.9,454.1 L635.9,453.9 L636.9,453.7 L637.9,453.5 L638.9,453.3 L639.9,453.0 L640.9,452.8 L641.9,452.6 L642.9,452.4 L643.9,452.3 L644.9,452.1 L645.9,451.9 L646.9,451.8 L647.9,451.7 L648.9,451.6 L649.9,451.4 L650.9,451.3 L651.9,451.2 L652.9,451.1 L653.9,451.1 L654.9,451.0 L655.9,450.9 L656.9,450.9 L657.9,450.9 L658.9,450.9 L659.9,450.9 L660.9,450.8 L661.9,450.8 L662.9,450.8 L663.9,450.8 L664.9,450.8 L665.9,450.8 L666.9,450.8 L667.9,450.8 L668.9,450.8 L669.9,450.8 L670.9,450.7 L671.9,450.7 L672.9,450.7 L673.9,450.7 L674.9,450.7 L675.9,450.7 L676.9,450.7 L677.9,450.7 L678.9,450.7 L679.9,450.7 L680.9,450.7 L681.9,450.7 L682.9,450.7 L683.9,450.7 L684.9,450.7 L685.9,450.6 L686.9,450.6 L687.9,450.6 L688.9,450.6 L689.9,450.6 L690.9,450.6 L691.9,450.6 L692.9,450.6 L693.9,450.5 L694.9,450.5 L695.9,450.5 L696.9,450.5 L697.9,450.4 L698.9,450.4 L699.9,450.4 L700.9,450.4 L701.9,450.3 L702.9,450.3 L703.9,450.3 L704.9,450.2 L705.9,450.2 L706.9,450.2 L707.9,450.1 L708.9,450.1 L709.9,450.1 L710.9,450.0 L711.9,450.0 L712.9,450.0 L713.9,449.9 L714.9,449.9 L715.9,449.8 L716.9,449.8 L717.9,449.8 L718.9,449.7 L719.9,449.7 L720.9,449.6 L721.9,449.6 L722.9,449.5 L723.9,449.4 L724.9,449.4 L725.9,449.3 L726.9,449.3 L727.9,449.2 L728.9,449.1 L729.9,449.1 L730.9,449.0 L731.9,449.0 L732.9,448.9 L733.9,448.9 L734.9,448.8 L735.9,448.8 L736.9,448.7 L737.9,448.7 L738.9,448.7 L739.9,448.7 L740.9,448.7 L741.9,448.7 L742.9,448.7 L743.9,448.7 L744.9,448.7 L745.9,448.7 L746.9,448.6 L747.9,448.6 L748.9,448.6 L749.9,448.6 L750.9,448.6 L751.9,448.6 L752.9,448.6 L753.9,448.6 L754.9,448.6" stroke="#00f" stroke-width="2.35" stroke-dasharray="2.35 3.65" fill="none"/>
<path d="M86.8,443.7 L87.8,443.7 L88.8,443.7 L89.8,443.7 L90.8,443.7 L91.8,443.8 L92.8,443.8 L93.8,443.8 L94.8,443.8 L95.8,443.8 L96.8,443.8 L97.8,443.8 L98.8,443.9 L99.8,443.9 L100.8,443.9 L101.8,443.9 L102.8,443.9 L103.8,443.9 L104.8,443.9 L105.8,443.9 L106.8,444.0 L107.8,444.0 L108.8,444.0 L109.8,444.0 L110.8,444.0 L111.8,444.0 L112.8,444.0 L113.8,444.0 L114.8,444.1 L115.8,444.1 L116.8,444.1 L117.8,444.1 L118.8,444.1 L119.8,444.1 L120.8,444.1 L121.8,444.1 L122.8,444.2 L123.8,444.2 L124.8,444.2 L125.8,444.2 L126.8,444.2 L127.8,444.2 L128.8,444.2 L129.8,444.3 L130.8,444.3 L131.8,444.3 L132.8,444.3 L133.8,444.3 L134.8,444.3 L135.8,444.3 L136.8,444.3 L137.8,444.4 L138.8,444.4 L139.8,444.4 L140.8,444.4 L141.8,444.4 L142.8,444.4 L143.8,444.4 L144.8,444.4 L145.8,444.5 L146.8,444.5 L147.8,444.5 L148.8,444.5 L149.8,444.5 L150.8,444.5 L151.8,444.5 L152.8,444.5 L153.8,444.6 L154.8,444.6 L155.8,444.6 L156.8,444.6 L157.8,444.6 L158.8,444.6 L159.8,444.6 L160.8,444.6 L161.8,444.7 L162.8,444.7 L163.8,444.7 L164.8,444.7 L165.8,444.7 L166.8,444.7 L167.8,444.7 L168.8,444.7 L169.8,444.8 L170.8,444.8 L171.8,444.8 L172.8,444.8 L173.8,444.8 L174.8,444.8 L175.8,444.8 L176.8,444.8 L177.8,444.9 L178.8,444.9 L179.8,444.9 L180.8,444.9 L181.8,444.9 L182.8,444.9 L183.8,444.9 L184.8,444.9 L185.8,444.9 L186.8,445.0 L187.8,445.0 L188.8,445.0 L189.8,445.0 L190.8,445.0 L191.8,445.0 L192.8,445.0 L193.8,445.0 L194.8,445.0 L195.8,445.1 L196.8,445.1 L197.8,445.1 L198.8,445.1 L199.8,445.1 L200.8,445.1 L201.8,445.1 L202.8,445.1 L203.8,445.2 L204.8,445.2 L205.8,445.2 L206.8,445.2 L207.8,445.2 L208.8,445.2 L209.8,445.2 L210.8,445.2 L211.8,445.2 L212.8,445.3 L213.8,445.3 L214.8,445.3 L215.8,445.3 L216.8,445.3 L217.8,445.3 L218.8,445.3 L219.8,445.3 L220.8,445.4 L221.8,445.4 L222.8,445.4 L223.8,445.4 L224.8,445.4 L225.8,445.4 L226.8,445.4 L227.8,445.4 L228.8,445.5 L229.8,445.5 L230.8,445.5 L231.8,445.5 L232.8,445.5 L233.8,445.5 L234.8,445.5 L235.8,445.6 L236.8,445.6 L237.8,445.6 L238.8,445.6 L239.8,445.6 L240.8,445.6 L241.8,445.7 L242.8,445.7 L243.8,445.7 L244.8,445.7 L245.8,445.7 L246.8,445.7 L247.8,445.8 L248.8,445.8 L249.8,445.8 L250.8,445.8 L251.8,445.9 L252.8,445.9 L253.8,445.9 L254.8,445.9 L255.8,446.0 L256.9,446.0 L257.9,446.0 L258.9,446.0 L259.9,446.0 L260.9,446.1 L261.9,446.1 L262.9,446.1 L263.9,446.1 L264.9,446.1 L265.9,446.1 L266.9,446.1 L267.9,446.1 L268.9,446.1 L269.9,446.1 L270.9,446.0 L271.9,446.0 L272.9,446.0 L273.9,446.0 L274.9,446.0 L275.9,445.9 L276.9,445.9 L277.9,445.9 L278.9,445.9 L279.9,445.8 L280.9,445.8 L281.9,445.8 L282.9,445.8 L283.9,445.7 L284.9,445.7 L285.9,445.7 L286.9,445.6 L287.9,445.6 L288.9,445.6 L289.9,445.5 L290.9,445.5 L291.9,445.5 L292.9,445.4 L293.9,445.4 L294.9,445.3 L295.9,445.3 L296.9,445.3 L297.9,445.2 L298.9,445.2 L299.9,445.2 L300.9,445.2 L301.9,445.1 L302.9,445.1 L303.9,445.1 L304.9,445.1 L305.9,445.1 L306.9,445.1 L307.9,445.1 L308.9,445.2 L309.9,445.2 L310.9,445.3 L311.9,445.3 L312.9,445.4 L313.9,445.5 L314.9,445.5 L315.9,445.6 L316.9,445.7 L317.9,445.8 L318.9,445.9 L319.9,446.0 L320.9,446.1 L321.9,446.2 L322.9,446.4 L323.9,446.5 L324.9,446.7 L325.9,447.0 L326.9,447.2 L327.9,447.5 L328.9,447.8 L329.9,448.1 L330.9,448.4 L331.9,448.7 L332.9,449.1 L333.9,449.4 L334.9,449.7 L335.9,450.1 L336.9,450.5 L337.9,451.0 L338.9,451.4 L339.9,451.9 L340.9,452.3 L341.9,452.8 L342.9,453.3 L343.9,453.7 L344.9,454.1 L345.9,454.6 L346.9,455.0 L347.9,455.5 L348.9,456.0 L349.9,456.4 L350.9,456.9 L351.9,457.3 L352.9,457.8 L353.9,458.2 L354.9,458.5 L355.9,458.9 L356.9,459.2 L357.9,459.4 L358.9,459.7 L359.9,459.9 L360.9,460.2 L361.9,460.4 L362.9,460.6 L363.9,460.8 L364.9,461.0 L365.9,461.2 L366.9,461.3 L367.9,461.5 L368.9,461.5 L369.9,461.6 L370.9,461.6 L371.9,461.6 L372.9,461.5 L373.9,461.4 L374.9,461.3 L375.9,461.2 L376.9,461.0 L377.9,460.9 L378.9,460.7 L379.9,460.5 L380.9,460.3 L381.9,460.1 L382.9,459.9 L383.9,459.5 L384.9,459.2 L385.9,458.8 L386.9,458.3 L387.9,457.8 L388.9,457.3 L389.9,456.8 L390.9,456.4 L391.9,455.9 L392.9,455.5 L393.9,455.1 L394.9,454.7 L395.9,454.3 L396.9,453.9 L397.9,453.5 L398.9,453.1 L399.9,452.8 L400.9,452.4 L401.9,452.0 L402.9,451.7 L403.9,451.4 L404.9,451.0 L405.9,450.7 L406.9,450.4 L407.9,450.1 L408.9,449.8 L409.9,449.5 L410.9,449.2 L411.9,449.0 L412.9,448.7 L413.9,448.5 L414.9,448.3 L415.9,448.2 L416.9,448.0 L417.9,447.8 L418.9,447.7 L419.9,447.5 L420.9,447.4 L421.9,447.3 L422.9,447.1 L423.9,447.0 L424.9,446.9 L425.9,446.8 L426.9,446.7 L427.9,446.7 L428.9,446.6 L429.9,446.6 L430.9,446.5 L431.9,446.5 L432.9,446.4 L433.9,446.4 L434.9,446.3 L435.9,446.3 L436.9,446.3 L437.9,446.2 L438.9,446.2 L439.9,446.2 L440.9,446.1 L441.9,446.1 L442.9,446.1 L443.9,446.1 L444.9,446.1 L445.9,446.1 L446.9,446.1 L447.9,446.1 L448.9,446.1 L449.9,446.1 L450.9,446.1 L451.9,446.1 L452.9,446.1 L453.9,446.1 L454.9,446.1 L455.9,446.1 L456.9,446.1 L457.9,446.1 L458.9,446.1 L459.9,446.1 L460.9,446.2 L461.9,446.2 L462.9,446.3 L463.9,446.5 L464.9,446.7 L465.9,447.0 L466.9,447.3 L467.9,447.6 L468.9,448.0 L469.9,448.3 L470.9,448.8 L471.9,449.2 L472.9,449.7 L473.9,450.2 L474.9,450.7 L475.9,451.2 L476.9,451.7 L477.9,452.3 L478.9,452.9 L479.9,453.5 L480.9,454.2 L481.9,454.9 L482.9,455.8 L483.9,456.8 L484.9,457.8 L485.9,458.9 L486.9,460.2 L487.9,461.5 L488.9,463.0 L489.9,464.6 L490.9,466.3 L491.9,468.1 L492.9,470.0 L493.9,472.1 L494.9,474.2 L495.9,476.5 L496.9,478.8 L497.9,481.2 L498.9,483.8 L499.9,486.7 L500.9,489.6 L501.9,492.6 L502.9,495.6 L503.9,498.8 L504.9,502.1 L505.9,505.5 L506.9,508.9 L507.9,512.4 L508.9,515.9 L509.9,519.3 L510.9,522.6 L511.9,526.2 L512.9,530.6 L513.9,535.9 L514.9,541.6 L515.9,547.1 L516.9,552.4 L517.9,557.5 L518.9,562.4 L519.9,567.0 L520.9,571.5 L521.9,576.1 L522.9,580.8 L523.9,585.5 L524.9,589.9 L525.9,593.9 L526.9,597.4 L527.9,600.5 L528.9,603.3 L529.9,605.8 L530.9,608.1 L531.9,610.3 L532.9,612.4 L533.9,614.5 L534.9,616.5 L535.9,618.3 L536.9,619.9 L537.9,621.1 L538.9,622.1 L539.9,622.7 L540.9,623.0 L541.9,622.9 L542.9,622.5 L543.9,621.8 L544.9,621.0 L545.9,619.9 L546.9,618.6 L547.9,617.1 L548.9,615.3 L549.9,613.5 L550.9,611.4 L551.9,609.2 L552.9,606.7 L553.9,603.6 L554.9,599.9 L555.9,595.8 L556.9,591.8 L557.9,587.9 L558.9,584.0 L559.9,579.5 L560.9,574.5 L561.9,569.3 L562.9,564.3 L563.9,559.5 L564.9,555.0 L565.9,551.0 L566.9,547.2 L567.9,543.3 L568.9,539.1 L569.9,534.7 L570.9,530.4 L571.9,526.5 L572.9,522.8 L573.9,519.2 L574.9,515.7 L575.9,512.1 L576.9,508.5 L577.9,505.1 L578.9,501.8 L579.9,498.6 L580.9,495.3 L581.9,492.0 L582.9,488.7 L583.9,485.5 L584.9,482.6 L585.9,479.9 L586.9,477.3 L587.9,475.0 L588.9,472.8 L589.9,470.7 L590.9,468.6 L591.9,466.6 L592.9,464.8 L593.9,463.2 L594.9,461.7 L595.9,460.4 L596.9,459.2 L597.9,458.1 L598.9,457.1 L599.9,456.2 L600.9,455.4 L601.9,454.6 L602.9,454.0 L603.9,453.3 L604.9,452.7 L605.9,452.1 L606.9,451.5 L607.9,451.0 L608.9,450.6 L609.9,450.3 L610.9,450.0 L611.9,449.8 L612.9,449.6 L613.9,449.5 L614.9,449.4 L615.9,449.2 L616.9,449.1 L617.9,449.1 L618.9,449.0 L619.9,448.9 L620.9,448.8 L621.9,448.7 L622.9,448.7 L623.9,448.6 L624.9,448.6 L625.9,448.6 L626.9,448.7 L627.9,448.7 L628.9,448.7 L629.9,448.7 L630.9,448.7 L631.9,448.8 L632.9,448.8 L633.9,448.8 L634.9,448.8 L635.9,448.8 L636.9,448.8 L637.9,448.8 L638.9,448.8 L639.9,448.8 L640.9,448.8 L641.9,448.8 L642.9,448.8 L643.9,448.8 L644.9,448.8 L645.9,448.8 L646.9,448.8 L647.9,448.8 L648.9,448.8 L649.9,448.8 L650.9,448.8 L651.9,448.8 L652.9,448.8 L653.9,448.8 L654.9,448.8 L655.9,448.8 L656.9,448.8 L657.9,448.8 L658.9,448.8 L659.9,448.8 L660.9,448.8 L661.9,448.8 L662.9,448.8 L663.9,448.8 L664.9,448.8 L665.9,448.8 L666.9,448.8 L667.9,448.8 L668.9,448.8 L669.9,448.8 L670.9,448.8 L671.9,448.8 L672.9,448.8 L673.9,448.8 L674.9,448.8 L675.9,448.8 L676.9,448.8 L677.9,448.8 L678.9,448.8 L679.9,448.8 L680.9,448.8 L681.9,448.8 L682.9,448.8 L683.9,448.8 L684.9,448.8 L685.9,448.8 L686.9,448.8 L687.9,448.8 L688.9,448.8 L689.9,448.8 L690.9,448.8 L691.9,448.8 L692.9,448.8 L693.9,448.8 L694.9,448.8 L695.9,448.8 L696.9,448.8 L697.9,448.8 L698.9,448.8 L699.9,448.8 L700.9,448.8 L701.9,448.8 L702.9,448.8 L703.9,448.8 L704.9,448.8 L705.9,448.8 L706.9,448.8 L707.9,448.8 L708.9,448.8 L709.9,448.8 L710.9,448.8 L711.9,448.8 L712.9,448.8 L713.9,448.8 L714.9,448.8 L715.9,448.8 L716.9,448.8 L717.9,448.8 L718.9,448.8 L719.9,448.8 L720.9,448.8 L721.9,448.8 L722.9,448.8 L723.9,448.8 L724.9,448.7 L725.9,448.7 L726.9,448.7 L727.9,448.7 L728.9,448.7 L729.9,448.7 L730.9,448.7 L731.9,448.7 L732.9,448.7 L733.9,448.7 L734.9,448.7 L735.9,448.7 L736.9,448.7 L737.9,448.7 L738.9,448.7 L739.9,448.7 L740.9,448.7 L741.9,448.7 L742.9,448.7 L743.9,448.7 L744.9,448.7 L745.9,448.7 L746.9,448.6 L747.9,448.6 L748.9,448.6 L749.9,448.6 L750.9,448.6 L751.9,448.6 L752.9,448.6 L753.9,448.6 L754.9,448.6" stroke="#00f" stroke-width="2.35" stroke-dasharray="2.35 3.65" fill="none"/>
<path d="M86.8,443.7 L87.8,443.7 L88.8,443.7 L89.8,443.7 L90.8,443.7 L91.8,443.8 L92.8,443.8 L93.8,443.8 L94.8,443.8 L95.8,443.8 L96.8,443.8 L97.8,443.8 L98.8,443.9 L99.8,443.9 L100.8,443.9 L101.8,443.9 L102.8,443.9 L103.8,443.9 L104.8,443.9 L105.8,443.9 L106.8,444.0 L107.8,444.0 L108.8,444.0 L109.8,444.0 L110.8,444.0 L111.8,444.0 L112.8,444.0 L113.8,444.0 L114.8,444.1 L115.8,444.1 L116.8,444.1 L117.8,444.1 L118.8,444.1 L119.8,444.1 L120.8,444.1 L121.8,444.1 L122.8,444.2 L123.8,444.2 L124.8,444.2 L125.8,444.2 L126.8,444.2 L127.8,444.2 L128.8,444.2 L129.8,444.3 L130.8,444.3 L131.8,444.3 L132.8,444.3 L133.8,444.3 L134.8,444.3 L135.8,444.3 L136.8,444.3 L137.8,444.4 L138.8,444.4 L139.8,444.4 L140.8,444.4 L141.8,444.4 L142.8,444.4 L143.8,444.4 L144.8,444.4 L145.8,444.5 L146.8,444.5 L147.8,444.5 L148.8,444.5 L149.8,444.5 L150.8,444.5 L151.8,444.5 L152.8,444.5 L153.8,444.6 L154.8,444.6 L155.8,444.6 L156.8,444.6 L157.8,444.6 L158.8,444.6 L159.8,444.6 L160.8,444.6 L161.8,444.7 L162.8,444.7 L163.8,444.7 L164.8,444.7 L165.8,444.7 L166.8,444.7 L167.8,444.7 L168.8,444.7 L169.8,444.8 L170.8,444.8 L171.8,444.8 L172.8,444.8 L173.8,444.8 L174.8,444.8 L175.8,444.8 L176.8,444.8 L177.8,444.9 L178.8,444.9 L179.8,444.9 L180.8,444.9 L181.8,444.9 L182.8,444.9 L183.8,444.9 L184.8,444.9 L185.8,444.9 L186.8,445.0 L187.8,445.0 L188.8,445.0 L189.8,445.0 L190.8,445.0 L191.8,445.0 L192.8,445.0 L193.8,445.0 L194.8,445.0 L195.8,445.1 L196.8,445.1 L197.8,445.1 L198.8,445.1 L199.8,445.1 L200.8,445.1 L201.8,445.1 L202.8,445.1 L203.8,445.2 L204.8,445.2 L205.8,445.2 L206.8,445.2 L207.8,445.2 L208.8,445.2 L209.8,445.2 L210.8,445.2 L211.8,445.2 L212.8,445.3 L213.8,445.3 L214.8,445.3 L215.8,445.3 L216.8,445.3 L217.8,445.3 L218.8,445.3 L219.8,445.3 L220.8,445.4 L221.8,445.4 L222.8,445.4 L223.8,445.4 L224.8,445.4 L225.8,445.4 L226.8,445.4 L227.8,445.4 L228.8,445.5 L229.8,445.5 L230.8,445.5 L231.8,445.5 L232.8,445.5 L233.8,445.5 L234.8,445.5 L235.8,445.6 L236.8,445.6 L237.8,445.6 L238.8,445.6 L239.8,445.6 L240.8,445.6 L241.8,445.7 L242.8,445.7 L243.8,445.7 L244.8,445.7 L245.8,445.7 L246.8,445.7 L247.8,445.8 L248.8,445.8 L249.8,445.8 L250.8,445.8 L251.8,445.9 L252.8,445.9 L253.8,445.9 L254.8,445.9 L255.8,446.0 L256.9,446.0 L257.9,446.0 L258.9,446.0 L259.9,446.0 L260.9,446.1 L261.9,446.1 L262.9,446.1 L263.9,446.1 L264.9,446.1 L265.9,446.1 L266.9,446.1 L267.9,446.1 L268.9,446.1 L269.9,446.1 L270.9,446.0 L271.9,446.0 L272.9,446.0 L273.9,446.0 L274.9,446.0 L275.9,445.9 L276.9,445.9 L277.9,445.9 L278.9,445.9 L279.9,445.8 L280.9,445.8 L281.9,445.8 L282.9,445.8 L283.9,445.7 L284.9,445.7 L285.9,445.7 L286.9,445.6 L287.9,445.6 L288.9,445.6 L289.9,445.5 L290.9,445.5 L291.9,445.5 L292.9,445.4 L293.9,445.4 L294.9,445.3 L295.9,445.3 L296.9,445.3 L297.9,445.2 L298.9,445.2 L299.9,445.2 L300.9,445.2 L301.9,445.1 L302.9,445.1 L303.9,445.1 L304.9,445.1 L305.9,445.1 L306.9,445.1 L307.9,445.1 L308.9,445.2 L309.9,445.2 L310.9,445.3 L311.9,445.3 L312.9,445.4 L313.9,445.5 L314.9,445.5 L315.9,445.6 L316.9,445.7 L317.9,445.8 L318.9,445.9 L319.9,446.0 L320.9,446.1 L321.9,446.2 L322.9,446.4 L323.9,446.5 L324.9,446.7 L325.9,447.0 L326.9,447.2 L327.9,447.5 L328.9,447.8 L329.9,448.1 L330.9,448.4 L331.9,448.7 L332.9,449.1 L333.9,449.4 L334.9,449.7 L335.9,450.1 L336.9,450.5 L337.9,451.0 L338.9,451.4 L339.9,451.9 L340.9,452.3 L341.9,452.8 L342.9,453.3 L343.9,453.7 L344.9,454.1 L345.9,454.6 L346.9,455.0 L347.9,455.5 L348.9,456.0 L349.9,456.4 L350.9,456.9 L351.9,457.3 L352.9,457.8 L353.9,458.2 L354.9,458.5 L355.9,458.9 L356.9,459.2 L357.9,459.4 L358.9,459.7 L359.9,459.9 L360.9,460.2 L361.9,460.4 L362.9,460.6 L363.9,460.8 L364.9,461.0 L365.9,461.2 L366.9,461.3 L367.9,461.5 L368.9,461.5 L369.9,461.6 L370.9,461.6 L371.9,461.6 L372.9,461.5 L373.9,461.4 L374.9,461.3 L375.9,461.2 L376.9,461.0 L377.9,460.9 L378.9,460.7 L379.9,460.5 L380.9,460.3 L381.9,460.1 L382.9,459.9 L383.9,459.5 L384.9,459.2 L385.9,458.8 L386.9,458.3 L387.9,457.8 L388.9,457.3 L389.9,456.8 L390.9,456.4 L391.9,455.9 L392.9,455.5 L393.9,455.1 L394.9,454.7 L395.9,454.3 L396.9,453.9 L397.9,453.6 L398.9,453.2 L399.9,452.9 L400.9,452.6 L401.9,452.3 L402.9,452.0 L403.9,451.7 L404.9,451.5 L405.9,451.3 L406.9,451.0 L407.9,450.8 L408.9,450.6 L409.9,450.4 L410.9,450.2 L411.9,450.0 L412.9,449.8 L413.9,449.7 L414.9,449.5 L415.9,449.4 L416.9,449.3 L417.9,449.2 L418.9,449.1 L419.9,449.0 L420.9,448.9 L421.9,448.8 L422.9,448.7 L423.9,448.6 L424.9,448.6 L425.9,448.5 L426.9,448.5 L427.9,448.4 L428.9,448.4 L429.9,448.4 L430.9,448.4 L431.9,448.4 L432.9,448.4 L433.9,448.4 L434.9,448.4 L435.9,448.5 L436.9,448.5 L437.9,448.5 L438.9,448.6 L439.9,448.6 L440.9,448.7 L441.9,448.7 L442.9,448.8 L443.9,448.9 L444.9,448.9 L445.9,449.0 L446.9,449.1 L447.9,449.2 L448.9,449.3 L449.9,449.4 L450.9,449.5 L451.9,449.6 L452.9,449.7 L453.9,449.8 L454.9,449.9 L455.9,450.1 L456.9,450.2 L457.9,450.4 L458.9,450.5 L459.9,450.7 L460.9,450.9 L461.9,451.1 L462.9,451.3 L463.9,451.6 L464.9,451.9 L465.9,452.2 L466.9,452.5 L467.9,452.9 L468.9,453.3 L469.9,453.7 L470.9,454.3 L471.9,454.9 L472.9,455.5 L473.9,456.2 L474.9,457.0 L475.9,457.9 L476.9,458.8 L477.9,459.8 L478.9,460.9 L479.9,462.1 L480.9,463.4 L481.9,464.8 L482.9,466.2 L483.9,467.7 L484.9,469.2 L485.9,470.9 L486.9,472.6 L487.9,474.5 L488.9,476.5 L489.9,478.6 L490.9,480.8 L491.9,483.2 L492.9,485.7 L493.9,488.3 L494.9,491.0 L495.9,494.0 L496.9,497.2 L497.9,500.8 L498.9,504.7 L499.9,508.8 L500.9,512.9 L501.9,517.0 L502.9,520.9 L503.9,524.9 L504.9,528.8 L505.9,533.0 L506.9,537.4 L507.9,542.1 L508.9,546.8 L509.9,551.5 L510.9,556.1 L511.9,560.6 L512.9,565.1 L513.9,569.6 L514.9,574.2 L515.9,578.7 L516.9,583.3 L517.9,588.0 L518.9,592.9 L519.9,597.8 L520.9,602.4 L521.9,606.8 L522.9,610.9 L523.9,614.7 L524.9,618.2 L525.9,621.4 L526.9,624.5 L527.9,627.3 L528.9,630.0 L529.9,632.6 L530.9,635.0 L531.9,637.3 L532.9,639.4 L533.9,641.3 L534.9,643.0 L535.9,644.6 L536.9,646.1 L537.9,647.3 L538.9,648.2 L539.9,648.9 L540.9,649.2 L541.9,649.3 L542.9,649.1 L543.9,648.6 L544.9,647.9 L545.9,646.9 L546.9,645.5 L547.9,643.8 L548.9,641.8 L549.9,639.7 L550.9,637.5 L551.9,635.2 L552.9,632.7 L553.9,630.1 L554.9,627.3 L555.9,624.3 L556.9,621.2 L557.9,617.8 L558.9,614.1 L559.9,610.0 L560.9,605.5 L561.9,600.5 L562.9,595.4 L563.9,590.2 L564.9,585.0 L565.9,579.7 L566.9,574.2 L567.9,568.6 L568.9,563.0 L569.9,557.8 L570.9,553.1 L571.9,548.9 L572.9,545.0 L573.9,541.2 L574.9,537.4 L575.9,533.5 L576.9,529.5 L577.9,525.4 L578.9,521.3 L579.9,517.4 L580.9,513.7 L581.9,510.3 L582.9,507.0 L583.9,503.7 L584.9,500.3 L585.9,496.9 L586.9,493.6 L587.9,490.4 L588.9,487.4 L589.9,484.4 L590.9,481.8 L591.9,479.3 L592.9,477.0 L593.9,474.9 L594.9,472.9 L595.9,471.1 L596.9,469.4 L597.9,467.8 L598.9,466.3 L599.9,464.9 L600.9,463.6 L601.9,462.4 L602.9,461.3 L603.9,460.2 L604.9,459.2 L605.9,458.2 L606.9,457.3 L607.9,456.4 L608.9,455.7 L609.9,455.0 L610.9,454.3 L611.9,453.7 L612.9,453.2 L613.9,452.7 L614.9,452.3 L615.9,451.9 L616.9,451.6 L617.9,451.3 L618.9,451.1 L619.9,450.8 L620.9,450.6 L621.9,450.3 L622.9,450.1 L623.9,449.9 L624.9,449.7 L625.9,449.6 L626.9,449.5 L627.9,449.4 L628.9,449.4 L629.9,449.3 L630.9,449.3 L631.9,449.3 L632.9,449.2 L633.9,449.2 L634.9,449.2 L635.9,449.1 L636.9,449.1 L637.9,449.1 L638.9,449.1 L639.9,449.1 L640.9,449.0 L641.9,449.0 L642.9,449.0 L643.9,449.0 L644.9,449.0 L645.9,448.9 L646.9,448.9 L647.9,448.9 L648.9,448.9 L649.9,448.9 L650.9,448.9 L651.9,448.9 L652.9,448.8 L653.9,448.8 L654.9,448.8 L655.9,448.8 L656.9,448.8 L657.9,448.8 L658.9,448.8 L659.9,448.8 L660.9,448.8 L661.9,448.8 L662.9,448.8 L663.9,448.8 L664.9,448.8 L665.9,448.8 L666.9,448.8 L667.9,448.8 L668.9,448.8 L669.9,448.8 L670.9,448.8 L671.9,448.8 L672.9,448.8 L673.9,448.8 L674.9,448.8 L675.9,448.8 L676.9,448.8 L677.9,448.8 L678.9,448.8 L679.9,448.8 L680.9,448.8 L681.9,448.8 L682.9,448.8 L683.9,448.8 L684.9,448.8 L685.9,448.8 L686.9,448.8 L687.9,448.8 L688.9,448.8 L689.9,448.8 L690.9,448.8 L691.9,448.8 L692.9,448.8 L693.9,448.8 L694.9,448.8 L695.9,448.8 L696.9,448.8 L697.9,448.8 L698.9,448.8 L699.9,448.8 L700.9,448.8 L701.9,448.8 L702.9,448.8 L703.9,448.8 L704.9,448.8 L705.9,448.8 L706.9,448.8 L707.9,448.8 L708.9,448.8 L709.9,448.8 L710.9,448.8 L711.9,448.8 L712.9,448.8 L713.9,448.8 L714.9,448.8 L715.9,448.8 L716.9,448.8 L717.9,448.8 L718.9,448.8 L719.9,448.8 L720.9,448.8 L721.9,448.8 L722.9,448.8 L723.9,448.8 L724.9,448.7 L725.9,448.7 L726.9,448.7 L727.9,448.7 L728.9,448.7 L729.9,448.7 L730.9,448.7 L731.9,448.7 L732.9,448.7 L733.9,448.7 L734.9,448.7 L735.9,448.7 L736.9,448.7 L737.9,448.7 L738.9,448.7 L739.9,448.7 L740.9,448.7 L741.9,448.7 L742.9,448.7 L743.9,448.7 L744.9,448.7 L745.9,448.7 L746.9,448.6 L747.9,448.6 L748.9,448.6 L749.9,448.6 L750.9,448.6 L751.9,448.6 L752.9,448.6 L753.9,448.6 L754.9,448.6" stroke="#f00" stroke-width="2.5" stroke-linejoin="round" fill="none"/>
</g>
<rect x="86.85" y="419.95" width="668.55" height="291.95" fill="none" stroke="#000" stroke-width="1.75"/>
<path d="M131.3,711.9v-12M131.3,419.95v12M265.0,711.9v-12M265.0,419.95v12M398.8,711.9v-12M398.8,419.95v12M532.5,711.9v-12M532.5,419.95v12M666.3,711.9v-12M666.3,419.95v12M86.85,696.5h5.5M755.4,696.5h-5.5M86.85,681.2h11M755.4,681.2h-11M86.85,665.8h5.5M755.4,665.8h-5.5M86.85,650.4h11M755.4,650.4h-11M86.85,635.0h5.5M755.4,635.0h-5.5M86.85,619.7h11M755.4,619.7h-11M86.85,604.3h5.5M755.4,604.3h-5.5M86.85,588.9h11M755.4,588.9h-11M86.85,573.6h5.5M755.4,573.6h-5.5M86.85,558.2h11M755.4,558.2h-11M86.85,542.8h5.5M755.4,542.8h-5.5M86.85,527.5h11M755.4,527.5h-11M86.85,512.1h5.5M755.4,512.1h-5.5M86.85,496.7h11M755.4,496.7h-11M86.85,481.4h5.5M755.4,481.4h-5.5M86.85,466.0h11M755.4,466.0h-11M86.85,450.6h5.5M755.4,450.6h-5.5M86.85,435.2h11M755.4,435.2h-11" stroke="#000" stroke-width="1.6" fill="none"/>
<text class="sans" x="100.3" y="740.3">3960.6</text>
<text class="sans" x="234.0" y="740.3">3960.9</text>
<text class="sans" x="367.8" y="740.3">3961.2</text>
<text class="sans" x="501.5" y="740.3">3961.5</text>
<text class="sans" x="635.3" y="740.3">3961.8</text>
<text class="sans" x="71.6" y="720.9" text-anchor="end">0.1</text>
<text class="sans" x="71.6" y="690.2" text-anchor="end">0.2</text>
<text class="sans" x="71.6" y="659.4" text-anchor="end">0.3</text>
<text class="sans" x="71.6" y="628.7" text-anchor="end">0.4</text>
<text class="sans" x="71.6" y="597.9" text-anchor="end">0.5</text>
<text class="sans" x="71.6" y="567.2" text-anchor="end">0.6</text>
<text class="sans" x="71.6" y="536.5" text-anchor="end">0.7</text>
<text class="sans" x="71.6" y="505.7" text-anchor="end">0.8</text>
<text class="sans" x="71.6" y="475.0" text-anchor="end">0.9</text>
<text class="sans" x="71.6" y="444.2" text-anchor="end">1.0</text>
<text class="sans" x="422.3" y="767.7" text-anchor="middle">Lambda</text>
<text class="serif" transform="translate(33.5,631.2) rotate(-90)" textLength="83.5" lengthAdjust="spacingAndGlyphs" fill="#000" stroke="#000">Arbitrary</text>
<text class="serif" transform="translate(33.5,538.6) rotate(-90)" textLength="38.8" lengthAdjust="spacingAndGlyphs" fill="#000" stroke="#000">Flux</text>
<text class="serif" x="154.2" y="592.3" textLength="25.0" lengthAdjust="spacingAndGlyphs" fill="#000" stroke="#000">HE</text>
<text class="serif" x="189.4" y="592.3" textLength="107.6" lengthAdjust="spacingAndGlyphs" fill="#000" stroke="#000">0105−6141</text>
<text class="serif" x="154.1" y="617.0" textLength="17.9" lengthAdjust="spacingAndGlyphs" fill="#000" stroke="#000">Al</text>
<text class="serif" x="181.8" y="617.0" fill="#000" stroke="#000">I</text>
<text class="serif" x="197.4" y="617.0" textLength="75.2" lengthAdjust="spacingAndGlyphs" fill="#000" stroke="#000">3961.52</text>
<text class="serif" x="283.3" y="617.0" textLength="12.6" lengthAdjust="spacingAndGlyphs" fill="#000" stroke="#000">A</text>
<text class="serif" x="153.9" y="641.5" textLength="45.2" lengthAdjust="spacingAndGlyphs" fill="#f00" stroke="#f00">A(Al)</text>
<text class="serif" x="210.7" y="641.5" textLength="12.4" lengthAdjust="spacingAndGlyphs" fill="#f00" stroke="#f00">=</text>
<text class="serif" x="234.6" y="641.5" textLength="40.0" lengthAdjust="spacingAndGlyphs" fill="#f00" stroke="#f00">3.20</text>
<text class="serif" x="153.9" y="666.0" textLength="45.2" lengthAdjust="spacingAndGlyphs" fill="#00f" stroke="#00f">A(Al)</text>
<text class="serif" x="210.7" y="666.0" textLength="12.4" lengthAdjust="spacingAndGlyphs" fill="#00f" stroke="#00f">=</text>
<text class="serif" x="234.6" y="666.0" textLength="94.0" lengthAdjust="spacingAndGlyphs" fill="#00f" stroke="#00f">3.70,2.70,</text>
<text class="serif" x="329.0" y="666.0" textLength="47.2" lengthAdjust="spacingAndGlyphs" fill="#00f" stroke="#00f">none</text>
</svg>
</body></html>
